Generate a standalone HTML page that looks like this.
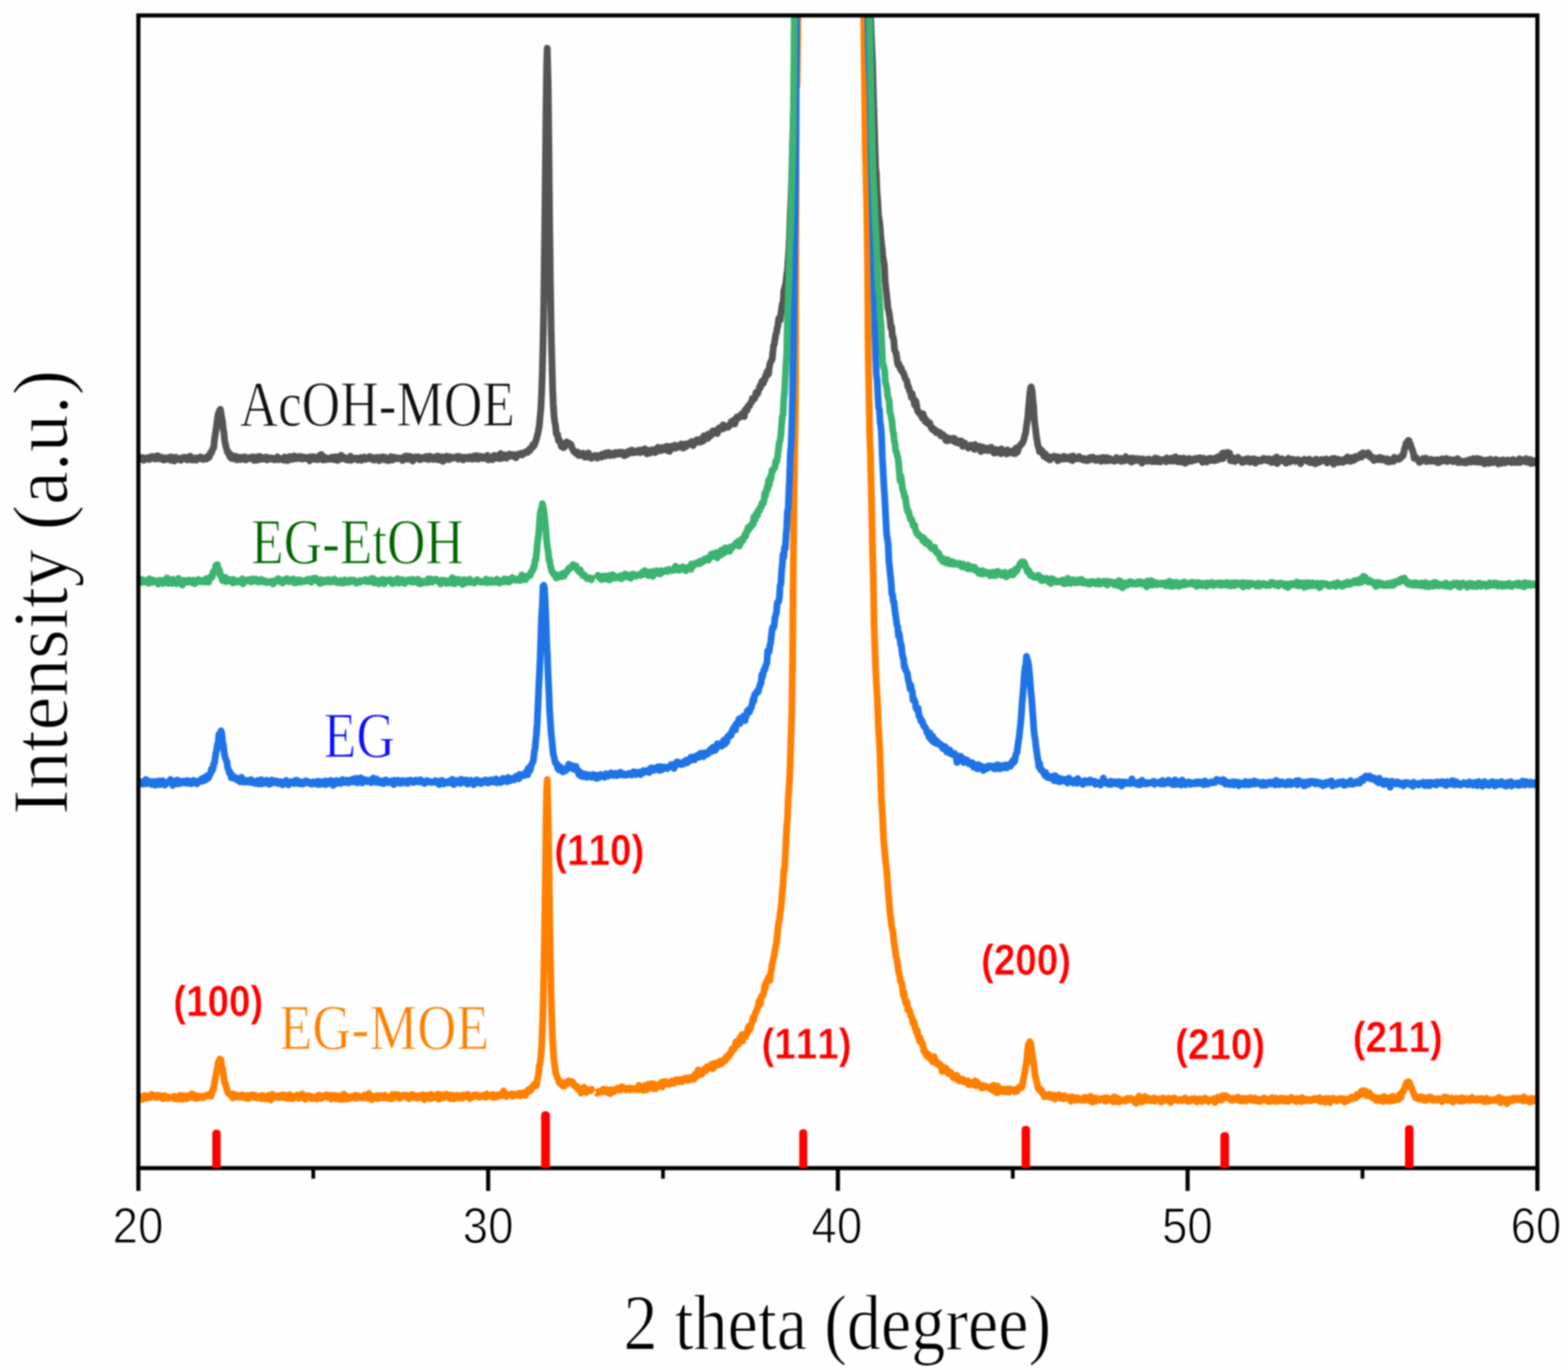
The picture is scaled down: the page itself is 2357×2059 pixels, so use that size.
<!DOCTYPE html>
<html lang="en"><head><meta charset="utf-8"><title>XRD patterns</title>
<style>html,body{margin:0;padding:0;background:#fefefe;}body{width:2357px;height:2059px;overflow:hidden;}svg{display:block;filter:blur(0.9px);}</style>
</head><body>
<svg xmlns="http://www.w3.org/2000/svg" width="2357" height="2059" viewBox="0 0 2357 2059">
<rect x="0" y="0" width="2357" height="2059" fill="#fefefe"/>
<defs><clipPath id="plot"><rect x="208.0" y="23.2" width="2103.0" height="1732.3999999999999"/></clipPath></defs>
<g clip-path="url(#plot)" fill="none" stroke-linejoin="round" stroke-linecap="butt">
<path d="M208.0 689.4L209.1 690.0L210.2 688.9L211.3 687.8L212.4 688.6L213.5 687.6L214.6 689.5L215.7 691.8L216.8 688.5L217.9 688.3L219.0 690.3L220.1 690.1L221.2 689.6L222.3 687.7L223.4 689.4L224.5 690.7L225.6 687.0L226.7 688.6L227.8 686.0L228.9 687.1L230.0 686.1L231.1 689.0L232.2 687.1L233.3 689.9L234.4 689.7L235.5 689.1L236.6 684.9L237.7 688.4L238.8 689.3L239.9 689.6L241.0 686.6L242.1 688.5L243.2 687.6L244.3 687.9L245.4 691.3L246.5 687.9L247.6 689.3L248.7 691.0L249.8 688.3L250.9 689.2L252.0 689.6L253.1 689.5L254.2 687.2L255.3 689.5L256.4 691.8L257.5 686.6L258.6 690.9L259.7 689.6L260.8 688.2L261.9 692.9L263.0 690.7L264.1 687.2L265.2 689.5L266.3 690.4L267.4 689.0L268.5 690.5L269.6 689.2L270.7 690.5L271.8 691.9L272.9 688.1L274.0 689.6L275.1 688.4L276.2 689.5L277.3 687.1L278.4 688.2L279.5 688.9L280.6 690.8L281.7 691.3L282.8 686.8L283.9 687.8L285.0 690.3L286.1 685.6L287.2 688.3L288.3 689.0L289.4 691.4L290.5 690.3L291.6 688.5L292.7 688.4L293.8 688.6L294.9 691.7L296.0 688.2L297.1 688.4L298.2 689.5L299.3 688.6L300.4 688.5L301.5 686.7L302.6 688.7L303.7 687.8L304.8 690.7L305.9 689.7L307.0 688.4L308.1 689.5L309.2 687.5L310.3 689.9L311.4 687.7L312.5 688.4L313.6 684.5L314.7 686.8L315.8 681.9L316.9 679.6L318.0 680.6L319.1 676.3L320.2 674.1L321.3 673.0L322.4 660.2L323.5 653.1L324.6 646.6L325.7 638.8L326.8 629.2L327.9 622.4L329.0 620.0L330.2 616.4L331.2 615.2L332.3 621.7L333.4 628.4L334.5 633.7L335.6 645.2L336.7 651.1L337.8 662.7L338.9 667.7L340.0 673.0L341.1 676.1L342.2 680.4L343.3 679.3L344.4 682.6L345.5 686.6L346.6 682.8L347.7 688.8L348.8 684.4L349.9 689.2L351.0 686.5L352.1 689.6L353.2 688.5L354.3 685.6L355.4 690.7L356.5 691.1L357.6 688.5L358.7 688.1L359.8 688.4L360.9 687.0L362.0 690.7L363.1 687.8L364.2 688.7L365.3 687.4L366.4 687.7L367.5 686.6L368.6 691.2L369.7 688.7L370.8 690.7L371.9 689.0L373.0 687.7L374.1 688.4L375.2 688.0L376.3 689.0L377.4 688.3L378.5 688.5L379.6 686.5L380.7 687.6L381.8 692.0L382.9 687.8L384.0 687.2L385.1 689.7L386.2 691.6L387.3 686.4L388.4 688.7L389.5 687.9L390.6 685.9L391.7 690.4L392.8 689.0L393.9 689.2L395.0 687.7L396.1 689.9L397.2 688.1L398.3 688.8L399.4 687.1L400.5 686.9L401.6 691.5L402.7 688.2L403.8 689.6L404.9 689.0L406.0 688.3L407.1 688.2L408.2 690.2L409.3 688.5L410.4 688.8L411.5 689.1L412.6 691.2L413.7 690.3L414.8 689.8L415.9 688.0L417.0 686.6L418.1 690.8L419.2 690.8L420.3 688.8L421.4 690.0L422.5 690.5L423.6 690.5L424.7 690.7L425.8 688.2L426.9 691.8L428.0 686.8L429.1 690.6L430.2 689.9L431.3 690.6L432.4 692.4L433.5 691.7L434.6 686.9L435.7 686.0L436.8 690.5L437.9 687.2L439.0 689.0L440.1 690.5L441.2 686.0L442.3 685.2L443.4 689.5L444.5 689.1L445.6 688.5L446.7 689.1L447.8 687.4L448.9 686.2L450.0 688.7L451.1 687.2L452.2 686.0L453.3 689.9L454.4 688.9L455.5 689.7L456.6 687.2L457.7 687.8L458.8 687.2L459.9 687.4L461.0 689.3L462.1 687.5L463.2 689.6L464.3 689.6L465.4 692.6L466.5 686.4L467.6 690.5L468.7 688.8L469.8 688.9L470.9 686.3L472.0 688.1L473.1 690.3L474.2 688.8L475.3 689.1L476.4 688.4L477.5 691.0L478.6 688.9L479.7 684.9L480.8 687.7L481.9 685.4L483.0 683.0L484.1 688.0L485.2 691.3L486.3 689.0L487.4 686.8L488.5 687.2L489.6 691.0L490.7 689.2L491.8 689.0L492.9 688.8L494.0 689.0L495.1 690.4L496.2 689.9L497.3 689.3L498.4 687.0L499.5 689.8L500.6 687.7L501.7 690.9L502.8 686.6L503.9 688.7L505.0 688.9L506.1 686.5L507.2 692.0L508.3 691.5L509.4 688.1L510.5 690.3L511.6 689.6L512.7 684.2L513.8 689.4L514.9 688.8L516.0 689.0L517.1 687.0L518.2 688.4L519.3 688.6L520.4 691.0L521.5 689.5L522.6 688.9L523.7 691.7L524.8 687.9L525.9 688.2L527.0 685.6L528.1 691.7L529.2 690.6L530.3 690.5L531.4 690.1L532.5 689.1L533.6 689.3L534.7 688.4L535.8 688.5L536.9 689.0L538.0 691.6L539.1 689.9L540.2 688.8L541.3 687.8L542.4 687.7L543.5 691.8L544.6 689.8L545.7 689.0L546.8 688.3L547.9 686.9L549.0 688.8L550.1 690.5L551.2 688.2L552.3 688.5L553.4 688.5L554.5 689.1L555.6 686.0L556.7 688.5L557.8 687.3L558.9 690.5L560.0 687.5L561.1 689.9L562.2 691.6L563.3 688.3L564.4 687.8L565.5 689.2L566.6 688.9L567.7 687.1L568.8 689.7L569.9 692.5L571.0 688.4L572.1 688.5L573.2 687.0L574.3 689.4L575.4 686.6L576.5 686.9L577.6 691.2L578.7 687.2L579.8 690.8L580.9 691.6L582.0 689.3L583.1 689.9L584.2 692.4L585.3 688.5L586.4 687.8L587.5 686.4L588.6 688.9L589.7 691.5L590.8 690.6L591.9 687.1L593.0 687.3L594.1 687.9L595.2 689.4L596.3 688.5L597.4 689.2L598.5 689.4L599.6 688.3L600.7 688.8L601.8 689.2L602.9 688.7L604.0 689.7L605.1 692.2L606.2 689.9L607.3 688.9L608.4 685.8L609.5 689.5L610.6 685.3L611.7 686.3L612.8 690.4L613.9 690.1L615.0 688.5L616.1 685.7L617.2 688.1L618.3 687.6L619.4 690.0L620.5 692.9L621.6 689.2L622.7 687.4L623.8 686.7L624.9 688.7L626.0 688.5L627.1 686.7L628.2 689.0L629.3 686.7L630.4 690.8L631.5 690.7L632.6 690.7L633.7 687.9L634.8 689.7L635.9 688.5L637.0 688.1L638.1 688.1L639.2 686.4L640.3 686.1L641.4 690.2L642.5 688.4L643.6 689.1L644.7 690.6L645.8 685.6L646.9 687.3L648.0 689.1L649.1 689.4L650.2 688.0L651.3 690.6L652.4 689.1L653.5 686.5L654.6 687.0L655.7 690.2L656.8 689.5L657.9 685.3L659.0 691.1L660.1 689.8L661.2 691.1L662.3 688.0L663.4 688.2L664.5 686.6L665.6 693.3L666.7 688.4L667.8 691.5L668.9 687.5L670.0 689.0L671.1 685.6L672.2 688.0L673.3 690.4L674.4 686.4L675.5 690.6L676.6 689.2L677.7 686.7L678.8 687.7L679.9 687.8L681.0 688.5L682.1 687.6L683.2 687.1L684.3 688.0L685.4 686.7L686.5 686.2L687.6 688.5L688.7 690.2L689.8 685.8L690.9 688.6L692.0 687.4L693.1 686.8L694.2 690.1L695.3 687.6L696.4 691.2L697.5 687.1L698.6 689.2L699.7 688.1L700.8 687.1L701.9 689.5L703.0 688.2L704.1 689.5L705.2 688.3L706.3 686.4L707.4 688.2L708.5 688.5L709.6 690.1L710.7 686.7L711.8 688.2L712.9 685.2L714.0 689.5L715.1 686.3L716.2 684.9L717.3 688.1L718.4 690.2L719.5 685.4L720.6 686.1L721.7 686.7L722.8 686.0L723.9 688.7L725.0 686.5L726.1 686.7L727.2 689.0L728.3 686.5L729.4 688.6L730.5 686.1L731.6 685.6L732.7 684.4L733.8 691.1L734.9 687.1L736.0 688.1L737.1 687.5L738.2 687.8L739.3 687.6L740.4 690.9L741.5 685.5L742.6 684.5L743.7 685.4L744.8 684.8L745.9 688.5L747.0 688.6L748.1 685.3L749.2 684.5L750.3 686.3L751.4 689.4L752.5 681.6L753.6 687.7L754.7 684.7L755.8 688.5L756.9 684.5L758.0 685.9L759.1 683.6L760.2 684.5L761.3 688.7L762.4 687.6L763.5 685.3L764.6 684.3L765.7 682.3L766.8 685.0L767.9 685.5L769.0 685.3L770.1 685.2L771.2 683.1L772.3 685.0L773.4 684.9L774.5 687.2L775.6 688.1L776.7 684.2L777.8 682.8L778.9 683.9L780.0 682.7L781.1 682.2L782.2 683.3L783.3 681.1L784.4 683.9L785.5 682.3L786.6 682.6L787.7 681.5L788.8 680.0L789.9 679.2L791.0 680.0L792.1 678.9L793.2 679.8L794.3 678.6L795.4 675.3L796.5 677.2L797.6 673.5L798.7 673.8L799.8 673.2L800.9 668.2L802.0 670.9L803.1 669.1L804.2 666.2L805.3 663.0L806.4 660.0L807.5 654.8L808.6 651.6L809.7 645.1L810.8 638.9L811.9 625.4L813.0 614.3L814.1 592.9L815.2 561.0L816.3 515.1L817.4 455.9L818.5 365.2L819.6 274.9L820.7 171.1L821.8 93.5L822.6 72.3L824.0 125.7L825.1 224.0L826.2 331.1L827.3 420.5L828.4 491.0L829.5 538.2L830.6 581.1L831.7 607.8L832.8 624.5L833.9 634.6L835.0 639.2L836.1 651.3L837.2 654.0L838.3 653.0L839.4 662.3L840.5 661.0L841.6 663.5L842.7 666.3L843.8 671.2L844.9 668.5L846.0 670.1L847.1 672.9L848.2 672.1L849.3 668.0L850.4 667.0L851.5 664.1L852.6 664.6L853.7 666.5L855.0 665.9L855.9 666.7L857.0 669.6L858.1 667.6L859.2 670.8L860.3 674.2L861.4 675.8L862.5 678.5L863.6 678.8L864.7 678.9L865.8 681.4L866.9 679.8L868.0 679.4L869.1 684.3L870.2 683.6L871.3 684.7L872.4 681.3L873.5 684.0L874.6 683.8L875.7 683.5L876.8 681.1L877.9 684.8L879.0 687.2L880.1 686.3L881.2 684.6L882.3 685.7L883.4 687.1L884.5 680.7L885.6 685.5L886.7 686.7L887.8 687.0L888.9 688.8L890.0 687.7L891.1 686.1L892.2 686.0L893.3 686.8L894.4 684.3L895.5 685.1L896.6 686.8L897.7 688.6L898.8 684.6L899.9 684.7L901.0 685.0L902.1 687.0L903.2 684.3L904.3 687.0L905.4 682.3L906.5 683.6L907.6 683.5L908.7 685.2L909.8 685.5L910.9 680.6L912.0 681.6L913.1 683.8L914.2 681.8L915.3 680.0L916.4 684.7L917.5 683.6L918.6 683.4L919.7 681.5L920.8 684.2L921.9 681.7L923.0 684.1L924.1 680.3L925.2 680.3L926.3 682.2L927.4 680.3L928.5 682.8L929.6 681.9L930.7 679.6L931.8 681.4L932.9 680.5L934.0 682.7L935.1 679.7L936.2 680.0L937.3 683.0L938.4 684.8L939.5 684.3L940.6 680.5L941.7 680.7L942.8 683.1L943.9 679.8L945.0 678.1L946.1 680.0L947.2 680.6L948.3 678.0L949.4 676.3L950.5 676.6L951.6 680.5L952.7 677.7L953.8 678.8L954.9 679.4L956.0 680.0L957.1 678.1L958.2 679.6L959.3 676.8L960.4 677.7L961.5 676.3L962.6 680.4L963.7 678.1L964.8 676.6L965.9 677.2L967.0 677.4L968.1 679.1L969.2 674.5L970.3 675.5L971.4 676.7L972.5 682.2L973.6 679.1L974.7 676.9L975.8 678.4L976.9 681.0L978.0 676.5L979.1 676.1L980.2 679.1L981.3 677.6L982.4 677.9L983.5 675.6L984.6 680.2L985.7 679.7L986.8 677.4L987.9 677.6L989.0 672.2L990.1 677.3L991.2 675.6L992.3 676.8L993.4 677.2L994.5 675.1L995.6 672.4L996.7 676.3L997.8 674.0L998.9 674.7L1000.0 674.1L1001.1 674.5L1002.2 670.5L1003.3 677.3L1004.4 675.3L1005.5 676.9L1006.6 678.4L1007.7 674.4L1008.8 670.7L1009.9 672.3L1011.0 671.5L1012.1 672.7L1013.2 673.6L1014.3 669.2L1015.4 673.6L1016.5 669.7L1017.6 673.0L1018.7 671.8L1019.8 671.1L1020.9 671.3L1022.0 670.0L1023.1 669.6L1024.2 667.1L1025.3 670.1L1026.4 673.5L1027.5 673.4L1028.6 671.8L1029.7 670.2L1030.8 667.1L1031.9 671.0L1033.0 667.7L1034.1 667.3L1035.2 666.5L1036.3 667.0L1037.4 665.6L1038.5 666.0L1039.6 663.6L1040.7 664.7L1041.8 669.8L1042.9 664.6L1044.0 663.9L1045.1 665.1L1046.2 665.1L1047.3 660.9L1048.4 662.4L1049.5 664.4L1050.6 662.6L1051.7 661.9L1052.8 664.5L1053.9 659.4L1055.0 660.5L1056.1 658.8L1057.2 662.6L1058.3 654.8L1059.4 657.0L1060.5 656.7L1061.6 658.7L1062.7 658.1L1063.8 659.2L1064.9 652.2L1066.0 656.7L1067.1 653.8L1068.2 652.4L1069.3 654.4L1070.4 650.7L1071.5 647.5L1072.6 650.6L1073.7 647.5L1074.8 648.7L1075.9 650.3L1077.0 649.5L1078.1 651.7L1079.2 647.1L1080.3 643.4L1081.4 644.5L1082.5 643.4L1083.6 642.1L1084.7 645.2L1085.8 642.1L1086.9 638.5L1088.0 644.0L1089.1 641.6L1090.2 642.2L1091.3 641.1L1092.4 641.8L1093.5 639.9L1094.6 642.1L1095.7 639.8L1096.8 639.1L1097.9 638.6L1099.0 633.7L1100.1 636.1L1101.2 635.2L1102.3 635.5L1103.4 631.1L1104.5 637.3L1105.6 632.9L1106.7 628.8L1107.8 626.7L1108.9 629.1L1110.0 628.6L1111.1 626.0L1112.2 626.9L1113.3 624.0L1114.4 625.8L1115.5 621.5L1116.6 622.1L1117.7 623.4L1118.8 626.1L1119.9 616.1L1121.0 616.2L1122.1 613.9L1123.2 616.7L1124.3 610.5L1125.4 610.7L1126.5 610.4L1127.6 606.5L1128.7 605.1L1129.8 604.7L1130.9 598.9L1132.0 598.8L1133.1 599.8L1134.2 599.3L1135.3 596.4L1136.4 589.9L1137.5 591.1L1138.6 592.1L1139.7 589.2L1140.8 585.2L1141.9 580.8L1143.0 582.8L1144.1 577.2L1145.2 573.4L1146.3 572.2L1147.4 576.4L1148.5 570.7L1149.6 571.2L1150.7 564.3L1151.8 565.9L1152.9 558.9L1154.0 557.4L1155.1 562.3L1156.2 554.1L1157.3 546.8L1158.4 544.4L1159.5 541.7L1160.6 540.1L1161.7 530.0L1162.8 520.0L1163.9 517.1L1165.0 509.8L1166.1 502.7L1167.2 500.8L1168.3 492.5L1169.4 489.6L1170.5 478.7L1171.6 481.0L1172.7 480.8L1173.8 471.3L1174.9 463.7L1176.0 456.6L1177.1 455.1L1178.2 437.6L1179.3 433.3L1180.4 429.1L1181.5 424.2L1182.6 413.0L1183.7 406.2L1184.8 390.1L1185.9 373.4L1187.0 350.3L1188.1 319.6L1189.2 294.3L1190.3 264.3L1191.4 217.4L1192.5 180.6L1193.6 143.9L1194.7 83.4L1195.8 16.0L1196.5 -40.0L1307.0 -40.0L1307.3 -31.7L1308.4 17.6L1309.5 48.8L1310.6 73.7L1311.7 97.2L1312.8 142.3L1313.9 177.4L1315.0 212.6L1316.1 250.1L1317.2 260.4L1318.3 289.9L1319.4 301.4L1320.5 322.5L1321.6 330.0L1322.7 337.9L1323.8 352.7L1324.9 365.1L1326.0 372.6L1327.1 385.0L1328.2 392.0L1329.3 397.4L1330.4 421.0L1331.5 431.9L1332.6 441.0L1333.7 451.0L1334.8 463.9L1335.9 467.1L1337.0 473.6L1338.1 482.1L1339.2 493.2L1340.3 490.7L1341.4 505.5L1342.5 505.9L1343.6 511.5L1344.7 526.2L1345.8 528.3L1346.9 530.1L1348.0 537.7L1349.1 545.5L1350.2 549.1L1351.3 546.7L1352.4 551.6L1353.5 554.7L1354.6 552.9L1355.7 558.1L1356.8 559.2L1357.9 560.2L1359.0 562.9L1360.1 567.2L1361.2 569.7L1362.3 570.6L1363.4 573.7L1364.5 580.7L1365.6 580.8L1366.7 585.4L1367.8 589.0L1368.9 590.0L1370.0 597.3L1371.1 591.6L1372.2 598.8L1373.3 598.6L1374.4 607.1L1375.5 609.5L1376.6 602.9L1377.7 608.4L1378.8 615.5L1379.9 618.7L1381.0 620.2L1382.1 619.8L1383.2 622.6L1384.3 624.6L1385.4 624.3L1386.5 628.5L1387.6 622.0L1388.7 630.4L1389.8 627.8L1390.9 633.9L1392.0 632.4L1393.1 632.2L1394.2 636.4L1395.3 634.6L1396.4 635.8L1397.5 635.4L1398.6 640.2L1399.7 642.4L1400.8 644.7L1401.9 643.0L1403.0 646.6L1404.1 645.2L1405.2 645.9L1406.3 648.3L1407.4 650.3L1408.5 648.0L1409.6 649.0L1410.7 650.0L1411.8 651.4L1412.9 650.0L1414.0 655.0L1415.1 652.6L1416.2 655.2L1417.3 653.1L1418.4 656.4L1419.5 657.1L1420.6 656.0L1421.7 661.9L1422.8 658.9L1423.9 662.5L1425.0 661.2L1426.1 658.3L1427.2 659.4L1428.3 661.6L1429.4 661.3L1430.5 661.8L1431.6 661.5L1432.7 658.7L1433.8 662.5L1434.9 658.8L1436.0 664.6L1437.1 662.7L1438.2 663.2L1439.3 664.6L1440.4 666.0L1441.5 662.8L1442.6 662.6L1443.7 664.3L1444.8 662.7L1445.9 665.2L1447.0 670.9L1448.1 665.7L1449.2 669.6L1450.3 665.7L1451.4 669.4L1452.5 668.5L1453.6 669.3L1454.7 670.9L1455.8 673.6L1456.9 670.6L1458.0 670.7L1459.1 668.8L1460.2 672.2L1461.3 670.7L1462.4 673.1L1463.5 671.6L1464.6 675.4L1465.7 668.1L1466.8 671.7L1467.9 674.3L1469.0 672.0L1470.1 671.3L1471.2 672.6L1472.3 670.5L1473.4 673.7L1474.5 678.6L1475.6 676.2L1476.7 671.8L1477.8 672.5L1478.9 673.6L1480.0 676.6L1481.1 673.2L1482.2 673.6L1483.3 677.0L1484.4 677.1L1485.5 674.9L1486.6 673.6L1487.7 673.0L1488.8 674.9L1489.9 672.0L1491.0 678.1L1492.1 675.6L1493.2 678.0L1494.3 681.0L1495.4 679.8L1496.5 675.4L1497.6 679.6L1498.7 680.3L1499.8 676.8L1500.9 676.6L1502.0 678.4L1503.1 675.7L1504.2 681.9L1505.3 674.5L1506.4 677.2L1507.5 678.9L1508.6 679.2L1509.7 680.1L1510.8 680.4L1511.9 679.6L1513.0 682.3L1514.1 676.0L1515.2 680.2L1516.3 678.8L1517.4 680.4L1518.5 680.5L1519.6 678.1L1520.7 678.4L1521.8 680.9L1522.9 679.6L1524.0 677.1L1525.1 681.8L1526.2 681.7L1527.3 673.4L1528.4 675.9L1529.5 679.3L1530.6 674.8L1531.7 672.6L1532.8 670.5L1533.9 668.7L1535.0 668.1L1536.1 666.0L1537.0 665.8L1538.3 662.5L1539.4 659.6L1540.5 654.0L1541.6 651.3L1542.7 642.3L1543.8 635.1L1544.9 627.3L1546.0 613.5L1547.1 601.4L1548.2 590.1L1549.3 582.6L1550.0 581.4L1551.5 587.7L1552.6 601.9L1553.7 610.7L1554.8 630.3L1555.9 639.5L1557.0 648.3L1558.1 657.4L1559.2 663.7L1560.3 670.5L1561.4 672.4L1562.5 678.9L1563.6 677.1L1564.7 675.7L1565.8 679.9L1566.9 678.3L1568.0 682.9L1569.1 685.6L1570.2 685.4L1571.3 682.1L1572.4 683.6L1573.5 688.8L1574.6 686.4L1575.7 686.1L1576.8 688.3L1577.9 691.2L1579.0 689.2L1580.1 687.2L1581.2 687.8L1582.3 688.5L1583.4 686.3L1584.5 685.6L1585.6 687.8L1586.7 686.1L1587.8 687.8L1588.9 688.2L1590.0 692.5L1591.1 686.7L1592.2 688.1L1593.3 688.1L1594.4 689.3L1595.5 690.5L1596.6 687.7L1597.7 687.2L1598.8 685.7L1599.9 687.1L1601.0 689.9L1602.1 689.0L1603.2 687.1L1604.3 688.4L1605.4 689.1L1606.5 690.1L1607.6 688.1L1608.7 688.8L1609.8 685.9L1610.9 687.2L1612.0 692.3L1613.1 685.4L1614.2 688.8L1615.3 689.9L1616.4 688.8L1617.5 688.0L1618.6 689.4L1619.7 689.6L1620.8 689.5L1621.9 686.2L1623.0 689.4L1624.1 688.1L1625.2 688.7L1626.3 690.2L1627.4 691.0L1628.5 691.5L1629.6 688.9L1630.7 691.6L1631.8 692.0L1632.9 692.0L1634.0 692.5L1635.1 689.7L1636.2 689.6L1637.3 691.5L1638.4 687.5L1639.5 690.4L1640.6 689.1L1641.7 689.4L1642.8 686.9L1643.9 688.5L1645.0 690.1L1646.1 691.8L1647.2 692.0L1648.3 690.0L1649.4 689.8L1650.5 688.7L1651.6 691.0L1652.7 689.8L1653.8 691.4L1654.9 693.5L1656.0 690.2L1657.1 687.5L1658.2 688.7L1659.3 687.6L1660.4 688.1L1661.5 692.7L1662.6 690.8L1663.7 687.6L1664.8 691.6L1665.9 692.7L1667.0 689.8L1668.1 689.2L1669.2 689.8L1670.3 691.0L1671.4 691.6L1672.5 692.6L1673.6 692.7L1674.7 692.7L1675.8 693.0L1676.9 691.7L1678.0 687.7L1679.1 690.3L1680.2 691.1L1681.3 689.9L1682.4 692.3L1683.5 689.9L1684.6 688.9L1685.7 693.3L1686.8 691.9L1687.9 691.0L1689.0 692.4L1690.1 692.6L1691.2 691.3L1692.3 686.2L1693.4 689.5L1694.5 689.9L1695.6 688.9L1696.7 691.1L1697.8 692.9L1698.9 689.9L1700.0 688.7L1701.1 694.5L1702.2 690.0L1703.3 688.5L1704.4 691.2L1705.5 691.6L1706.6 689.5L1707.7 692.3L1708.8 690.0L1709.9 689.2L1711.0 691.2L1712.1 692.3L1713.2 689.7L1714.3 691.5L1715.4 690.7L1716.5 696.1L1717.6 689.6L1718.7 693.5L1719.8 690.8L1720.9 690.7L1722.0 692.3L1723.1 692.6L1724.2 693.3L1725.3 691.6L1726.4 689.9L1727.5 690.0L1728.6 691.9L1729.7 692.1L1730.8 693.6L1731.9 691.8L1733.0 693.0L1734.1 693.8L1735.2 691.4L1736.3 688.3L1737.4 688.9L1738.5 688.5L1739.6 694.0L1740.7 689.5L1741.8 693.3L1742.9 692.2L1744.0 694.2L1745.1 693.0L1746.2 690.9L1747.3 690.8L1748.4 691.3L1749.5 691.5L1750.6 690.2L1751.7 691.1L1752.8 694.1L1753.9 688.1L1755.0 691.7L1756.1 689.5L1757.2 691.5L1758.3 692.7L1759.4 691.1L1760.5 692.6L1761.6 688.3L1762.7 693.2L1763.8 690.1L1764.9 692.4L1766.0 691.6L1767.1 686.5L1768.2 689.9L1769.3 691.7L1770.4 694.1L1771.5 691.8L1772.6 691.8L1773.7 688.7L1774.8 693.9L1775.9 694.6L1777.0 691.4L1778.1 690.9L1779.2 688.4L1780.3 692.9L1781.4 696.3L1782.5 692.6L1783.6 693.6L1784.7 692.3L1785.8 689.5L1786.9 693.8L1788.0 689.1L1789.1 691.0L1790.2 691.9L1791.3 693.0L1792.4 692.1L1793.5 692.1L1794.6 690.0L1795.7 689.0L1796.8 691.5L1797.9 690.1L1799.0 689.0L1800.1 689.1L1801.2 690.5L1802.3 688.0L1803.4 688.9L1804.5 688.4L1805.6 691.7L1806.7 692.1L1807.8 695.0L1808.9 688.6L1810.0 690.1L1811.1 693.0L1812.2 690.9L1813.3 690.7L1814.4 694.4L1815.5 690.7L1816.6 689.2L1817.7 688.9L1818.8 691.9L1819.9 691.8L1821.0 688.7L1822.1 689.4L1823.2 692.1L1824.3 692.1L1825.4 689.8L1826.5 692.1L1827.6 691.9L1828.7 687.4L1829.8 689.9L1830.9 690.9L1832.0 688.7L1833.1 685.3L1834.2 688.0L1835.3 689.1L1836.4 689.6L1837.5 681.2L1838.6 689.0L1839.7 680.6L1840.8 683.5L1841.9 683.3L1842.8 680.7L1844.1 681.4L1845.2 679.8L1846.3 684.5L1847.4 683.2L1848.5 681.1L1849.6 692.4L1850.7 689.4L1851.8 692.3L1852.9 687.9L1854.0 692.7L1855.1 693.3L1856.2 693.5L1857.3 690.8L1858.4 688.8L1859.5 690.8L1860.6 687.2L1861.7 688.2L1862.8 691.5L1863.9 689.6L1865.0 691.1L1866.1 691.3L1867.2 695.0L1868.3 693.9L1869.4 691.5L1870.5 693.8L1871.6 690.2L1872.7 691.0L1873.8 693.3L1874.9 689.4L1876.0 691.2L1877.1 689.3L1878.2 691.9L1879.3 694.7L1880.4 690.4L1881.5 692.2L1882.6 690.1L1883.7 689.7L1884.8 689.5L1885.9 694.4L1887.0 696.1L1888.1 692.7L1889.2 690.5L1890.3 693.1L1891.4 691.2L1892.5 693.3L1893.6 692.4L1894.7 692.4L1895.8 693.0L1896.9 690.8L1898.0 691.1L1899.1 688.8L1900.2 691.1L1901.3 689.3L1902.4 691.6L1903.5 690.2L1904.6 692.1L1905.7 692.7L1906.8 689.4L1907.9 690.5L1909.0 690.2L1910.1 693.3L1911.2 695.1L1912.3 693.5L1913.4 691.3L1914.5 694.6L1915.6 689.2L1916.7 694.7L1917.8 690.8L1918.9 686.9L1920.0 696.8L1921.1 694.9L1922.2 690.1L1923.3 692.3L1924.4 691.6L1925.5 692.2L1926.6 689.3L1927.7 690.8L1928.8 692.9L1929.9 692.5L1931.0 694.2L1932.1 692.2L1933.2 696.3L1934.3 690.8L1935.4 692.5L1936.5 688.6L1937.6 689.8L1938.7 694.5L1939.8 690.4L1940.9 693.1L1942.0 692.0L1943.1 690.2L1944.2 691.5L1945.3 691.2L1946.4 691.2L1947.5 693.5L1948.6 693.3L1949.7 691.1L1950.8 690.5L1951.9 692.7L1953.0 692.0L1954.1 694.0L1955.2 697.0L1956.3 693.7L1957.4 692.1L1958.5 691.9L1959.6 690.6L1960.7 690.5L1961.8 690.4L1962.9 691.5L1964.0 691.4L1965.1 693.5L1966.2 691.5L1967.3 691.8L1968.4 690.0L1969.5 695.2L1970.6 693.1L1971.7 695.5L1972.8 693.7L1973.9 694.9L1975.0 691.8L1976.1 693.5L1977.2 697.1L1978.3 690.0L1979.4 694.4L1980.5 695.3L1981.6 693.0L1982.7 693.6L1983.8 694.6L1984.9 691.0L1986.0 693.0L1987.1 690.6L1988.2 691.0L1989.3 691.1L1990.4 692.0L1991.5 692.5L1992.6 693.1L1993.7 689.6L1994.8 695.9L1995.9 694.4L1997.0 693.6L1998.1 691.6L1999.2 692.1L2000.3 693.3L2001.4 693.0L2002.5 689.1L2003.6 693.6L2004.7 697.7L2005.8 688.8L2006.9 694.1L2008.0 692.9L2009.1 692.0L2010.2 694.8L2011.3 690.0L2012.4 692.5L2013.5 694.9L2014.6 691.8L2015.7 691.4L2016.8 692.3L2017.9 691.3L2019.0 694.9L2020.1 690.3L2021.2 693.5L2022.3 689.5L2023.4 693.0L2024.5 691.4L2025.6 686.6L2026.7 691.3L2027.8 689.1L2028.9 690.0L2030.0 693.5L2031.1 688.2L2032.2 687.9L2033.3 692.3L2034.4 689.4L2035.5 691.6L2036.6 688.8L2037.7 685.9L2038.8 687.0L2039.9 688.9L2041.0 687.8L2042.1 685.4L2043.2 684.9L2044.3 684.0L2045.4 682.6L2046.5 687.1L2047.6 683.0L2048.7 680.5L2049.8 681.6L2051.0 682.5L2052.0 683.8L2053.1 682.4L2054.2 681.6L2055.3 683.3L2056.4 680.4L2057.5 681.6L2058.6 686.3L2059.7 684.3L2060.8 686.6L2061.9 688.8L2063.0 688.2L2064.1 687.6L2065.2 692.1L2066.3 689.8L2067.4 688.4L2068.5 690.9L2069.6 690.6L2070.7 688.6L2071.8 690.7L2072.9 690.5L2074.0 687.3L2075.1 690.9L2076.2 690.9L2077.3 690.7L2078.4 688.6L2079.5 691.1L2080.6 691.7L2081.7 692.0L2082.8 689.8L2083.9 693.1L2085.0 689.6L2086.1 691.5L2087.2 694.3L2088.3 690.6L2089.4 690.9L2090.5 693.8L2091.6 691.0L2092.7 691.2L2093.8 692.1L2094.9 693.5L2096.0 687.3L2097.1 689.8L2098.2 689.3L2099.3 689.0L2100.4 689.2L2101.5 688.9L2102.6 690.6L2103.7 687.8L2104.8 688.9L2105.9 688.3L2107.0 684.7L2108.1 684.4L2109.2 684.9L2110.3 679.4L2111.4 674.1L2112.5 671.5L2113.6 666.1L2114.7 665.3L2115.8 664.4L2116.8 661.8L2118.0 662.4L2119.1 667.7L2120.2 667.6L2121.3 672.8L2122.4 674.0L2123.5 677.8L2124.6 681.3L2125.7 688.8L2126.8 685.7L2127.9 686.9L2129.0 687.9L2130.1 689.4L2131.2 691.5L2132.3 691.1L2133.4 694.8L2134.5 691.7L2135.6 694.1L2136.7 692.1L2137.8 692.8L2138.9 689.2L2140.0 691.7L2141.1 691.9L2142.2 691.7L2143.3 688.3L2144.4 693.8L2145.5 691.6L2146.6 691.5L2147.7 691.9L2148.8 692.0L2149.9 693.2L2151.0 690.2L2152.1 690.8L2153.2 693.1L2154.3 692.9L2155.4 691.9L2156.5 691.6L2157.6 691.2L2158.7 692.6L2159.8 694.8L2160.9 690.8L2162.0 695.5L2163.1 694.3L2164.2 692.0L2165.3 694.2L2166.4 690.2L2167.5 689.7L2168.6 690.5L2169.7 692.1L2170.8 692.3L2171.9 691.9L2173.0 693.1L2174.1 689.0L2175.2 693.8L2176.3 690.3L2177.4 691.7L2178.5 692.2L2179.6 690.8L2180.7 690.5L2181.8 691.1L2182.9 692.9L2184.0 694.0L2185.1 694.0L2186.2 691.2L2187.3 691.6L2188.4 691.3L2189.5 693.8L2190.6 689.3L2191.7 695.2L2192.8 692.1L2193.9 691.6L2195.0 693.6L2196.1 694.9L2197.2 693.7L2198.3 694.9L2199.4 693.3L2200.5 695.3L2201.6 695.3L2202.7 692.9L2203.8 695.7L2204.9 693.4L2206.0 693.2L2207.1 691.4L2208.2 692.6L2209.3 694.5L2210.4 690.7L2211.5 694.3L2212.6 693.7L2213.7 693.6L2214.8 689.1L2215.9 692.9L2217.0 694.3L2218.1 691.8L2219.2 693.3L2220.3 688.9L2221.4 694.4L2222.5 692.0L2223.6 694.7L2224.7 689.8L2225.8 694.4L2226.9 692.7L2228.0 694.6L2229.1 691.5L2230.2 692.1L2231.3 697.2L2232.4 691.7L2233.5 691.9L2234.6 692.7L2235.7 691.3L2236.8 695.3L2237.9 696.3L2239.0 691.9L2240.1 690.1L2241.2 695.3L2242.3 695.2L2243.4 694.7L2244.5 695.3L2245.6 691.7L2246.7 692.9L2247.8 690.7L2248.9 690.7L2250.0 695.0L2251.1 692.0L2252.2 697.3L2253.3 693.4L2254.4 692.1L2255.5 694.7L2256.6 696.5L2257.7 694.1L2258.8 691.1L2259.9 693.9L2261.0 695.7L2262.1 692.4L2263.2 691.9L2264.3 695.1L2265.4 693.5L2266.5 691.3L2267.6 692.6L2268.7 691.9L2269.8 693.8L2270.9 693.5L2272.0 695.4L2273.1 694.6L2274.2 690.5L2275.3 694.0L2276.4 694.9L2277.5 694.1L2278.6 695.2L2279.7 692.3L2280.8 691.6L2281.9 695.0L2283.0 691.4L2284.1 689.4L2285.2 695.2L2286.3 692.0L2287.4 692.8L2288.5 690.8L2289.6 690.9L2290.7 691.3L2291.8 692.7L2292.9 694.0L2294.0 689.2L2295.1 694.7L2296.2 691.2L2297.3 691.4L2298.4 694.6L2299.5 693.2L2300.6 690.6L2301.7 696.7L2302.8 691.8L2303.9 693.8L2305.0 693.7L2306.1 695.9L2307.2 692.5L2308.3 695.2L2309.4 692.0L2310.5 695.4" stroke="#555555" stroke-width="10.2"/>
<path d="M208.0 1647.1L209.1 1647.8L210.2 1651.9L211.3 1649.0L212.4 1648.6L213.5 1652.5L214.6 1649.1L215.7 1647.0L216.8 1649.8L217.9 1646.3L219.0 1650.5L220.1 1650.6L221.2 1647.4L222.3 1647.3L223.4 1648.8L224.5 1648.5L225.6 1646.7L226.7 1649.5L227.8 1644.8L228.9 1647.7L230.0 1647.7L231.1 1647.9L232.2 1649.0L233.3 1646.2L234.4 1649.5L235.5 1648.1L236.6 1647.3L237.7 1646.0L238.8 1646.3L239.9 1649.1L241.0 1646.7L242.1 1648.5L243.2 1650.3L244.3 1650.3L245.4 1651.2L246.5 1647.9L247.6 1646.5L248.7 1650.2L249.8 1649.0L250.9 1650.4L252.0 1648.4L253.1 1650.6L254.2 1649.9L255.3 1649.7L256.4 1649.3L257.5 1649.1L258.6 1648.8L259.7 1648.8L260.8 1650.2L261.9 1647.5L263.0 1651.5L264.1 1648.2L265.2 1650.1L266.3 1648.2L267.4 1647.9L268.5 1652.0L269.6 1647.8L270.7 1646.0L271.8 1647.1L272.9 1647.8L274.0 1652.2L275.1 1648.7L276.2 1650.0L277.3 1646.5L278.4 1648.9L279.5 1649.5L280.6 1651.5L281.7 1647.0L282.8 1649.4L283.9 1648.8L285.0 1646.4L286.1 1648.2L287.2 1647.7L288.3 1644.0L289.4 1649.3L290.5 1649.2L291.6 1647.4L292.7 1645.7L293.8 1650.8L294.9 1648.6L296.0 1649.9L297.1 1650.6L298.2 1647.1L299.3 1649.5L300.4 1647.5L301.5 1647.8L302.6 1647.7L303.7 1647.8L304.8 1649.8L305.9 1647.9L307.0 1647.4L308.1 1647.1L309.2 1648.1L310.3 1645.7L311.4 1646.2L312.5 1646.8L313.6 1645.5L314.7 1645.7L315.8 1644.0L316.9 1647.6L318.0 1644.7L319.1 1640.6L320.2 1636.5L321.3 1636.8L322.4 1628.1L323.5 1621.5L324.6 1615.9L325.7 1609.3L326.8 1605.5L327.9 1596.9L329.0 1598.1L330.3 1591.5L331.2 1593.9L332.3 1593.0L333.4 1604.4L334.5 1605.6L335.6 1612.7L336.7 1621.3L337.8 1628.0L338.9 1628.6L340.0 1634.5L341.1 1636.1L342.2 1641.6L343.3 1643.2L344.4 1644.1L345.5 1644.4L346.6 1645.6L347.7 1645.4L348.8 1648.0L349.9 1650.0L351.0 1643.9L352.1 1647.3L353.2 1646.9L354.3 1648.6L355.4 1646.0L356.5 1647.5L357.6 1646.0L358.7 1649.2L359.8 1648.1L360.9 1647.7L362.0 1648.7L363.1 1647.6L364.2 1645.3L365.3 1649.2L366.4 1648.6L367.5 1647.9L368.6 1649.9L369.7 1650.4L370.8 1646.2L371.9 1646.8L373.0 1651.0L374.1 1650.8L375.2 1646.9L376.3 1646.1L377.4 1647.1L378.5 1647.4L379.6 1645.4L380.7 1648.3L381.8 1646.0L382.9 1646.1L384.0 1650.0L385.1 1647.1L386.2 1648.2L387.3 1649.5L388.4 1649.8L389.5 1647.7L390.6 1648.4L391.7 1646.9L392.8 1651.5L393.9 1649.5L395.0 1646.4L396.1 1648.4L397.2 1649.6L398.3 1649.2L399.4 1651.7L400.5 1650.8L401.6 1647.4L402.7 1648.2L403.8 1646.1L404.9 1648.8L406.0 1648.7L407.1 1653.3L408.2 1648.6L409.3 1644.6L410.4 1647.2L411.5 1648.6L412.6 1646.1L413.7 1646.8L414.8 1647.7L415.9 1649.0L417.0 1648.1L418.1 1646.8L419.2 1649.8L420.3 1647.4L421.4 1647.5L422.5 1645.9L423.6 1647.0L424.7 1649.6L425.8 1645.5L426.9 1648.3L428.0 1649.7L429.1 1647.7L430.2 1648.8L431.3 1646.4L432.4 1650.8L433.5 1650.4L434.6 1648.8L435.7 1645.3L436.8 1646.5L437.9 1650.2L439.0 1651.5L440.1 1649.0L441.2 1650.7L442.3 1647.3L443.4 1648.1L444.5 1648.4L445.6 1649.2L446.7 1645.7L447.8 1650.1L448.9 1650.8L450.0 1646.4L451.1 1646.0L452.2 1649.1L453.3 1647.2L454.4 1644.2L455.5 1649.9L456.6 1648.7L457.7 1647.6L458.8 1652.2L459.9 1648.7L461.0 1647.1L462.1 1648.6L463.2 1646.6L464.3 1647.1L465.4 1649.1L466.5 1647.4L467.6 1647.6L468.7 1651.4L469.8 1650.0L470.9 1649.9L472.0 1649.4L473.1 1649.3L474.2 1651.0L475.3 1648.4L476.4 1651.8L477.5 1646.7L478.6 1648.0L479.7 1645.9L480.8 1647.8L481.9 1649.4L483.0 1651.0L484.1 1647.2L485.2 1648.4L486.3 1647.8L487.4 1647.1L488.5 1646.3L489.6 1648.5L490.7 1645.3L491.8 1648.6L492.9 1648.5L494.0 1647.2L495.1 1646.6L496.2 1645.9L497.3 1651.8L498.4 1646.0L499.5 1651.2L500.6 1649.5L501.7 1647.8L502.8 1646.3L503.9 1650.3L505.0 1651.5L506.1 1646.7L507.2 1647.9L508.3 1650.3L509.4 1649.0L510.5 1652.0L511.6 1647.4L512.7 1649.4L513.8 1646.2L514.9 1652.2L516.0 1647.1L517.1 1644.4L518.2 1648.2L519.3 1648.2L520.4 1651.9L521.5 1647.8L522.6 1648.4L523.7 1649.5L524.8 1651.3L525.9 1648.3L527.0 1650.3L528.1 1649.3L529.2 1647.9L530.3 1648.5L531.4 1648.4L532.5 1646.7L533.6 1650.6L534.7 1645.9L535.8 1650.5L536.9 1650.1L538.0 1648.2L539.1 1647.0L540.2 1648.0L541.3 1649.2L542.4 1649.7L543.5 1648.9L544.6 1650.2L545.7 1647.4L546.8 1648.8L547.9 1645.5L549.0 1649.7L550.1 1648.6L551.2 1647.6L552.3 1650.5L553.4 1649.6L554.5 1643.3L555.6 1648.4L556.7 1645.7L557.8 1650.3L558.9 1652.8L560.0 1647.4L561.1 1648.5L562.2 1647.9L563.3 1649.0L564.4 1649.5L565.5 1650.6L566.6 1646.5L567.7 1651.2L568.8 1646.6L569.9 1648.8L571.0 1650.4L572.1 1649.6L573.2 1646.6L574.3 1647.0L575.4 1647.5L576.5 1648.2L577.6 1650.4L578.7 1646.0L579.8 1649.1L580.9 1649.4L582.0 1649.3L583.1 1649.1L584.2 1651.0L585.3 1649.1L586.4 1649.8L587.5 1649.3L588.6 1651.5L589.7 1644.8L590.8 1650.6L591.9 1647.8L593.0 1647.7L594.1 1646.5L595.2 1644.9L596.3 1647.5L597.4 1647.0L598.5 1649.1L599.6 1645.6L600.7 1650.8L601.8 1648.7L602.9 1647.8L604.0 1646.9L605.1 1646.8L606.2 1646.1L607.3 1647.2L608.4 1648.2L609.5 1647.9L610.6 1645.6L611.7 1647.7L612.8 1646.5L613.9 1648.4L615.0 1651.5L616.1 1649.3L617.2 1647.6L618.3 1645.2L619.4 1645.6L620.5 1645.1L621.6 1649.4L622.7 1646.7L623.8 1648.2L624.9 1647.0L626.0 1648.3L627.1 1650.6L628.2 1646.9L629.3 1647.5L630.4 1646.6L631.5 1649.6L632.6 1646.2L633.7 1646.0L634.8 1645.5L635.9 1645.5L637.0 1648.9L638.1 1652.7L639.2 1646.2L640.3 1649.7L641.4 1648.5L642.5 1646.0L643.6 1647.5L644.7 1647.6L645.8 1646.7L646.9 1651.5L648.0 1644.5L649.1 1648.7L650.2 1648.6L651.3 1646.9L652.4 1648.2L653.5 1649.5L654.6 1648.2L655.7 1648.7L656.8 1649.2L657.9 1644.3L659.0 1650.6L660.1 1652.0L661.2 1649.7L662.3 1649.7L663.4 1645.3L664.5 1647.7L665.6 1646.4L666.7 1646.8L667.8 1649.6L668.9 1646.4L670.0 1647.6L671.1 1644.4L672.2 1647.5L673.3 1648.0L674.4 1646.5L675.5 1646.5L676.6 1651.2L677.7 1645.6L678.8 1645.9L679.9 1646.3L681.0 1649.9L682.1 1651.6L683.2 1648.3L684.3 1646.4L685.4 1647.0L686.5 1649.6L687.6 1646.1L688.7 1650.3L689.8 1650.3L690.9 1647.8L692.0 1648.8L693.1 1649.0L694.2 1650.5L695.3 1645.7L696.4 1649.8L697.5 1646.9L698.6 1646.2L699.7 1647.8L700.8 1647.2L701.9 1645.8L703.0 1644.7L704.1 1645.8L705.2 1650.2L706.3 1651.1L707.4 1648.7L708.5 1649.7L709.6 1646.6L710.7 1647.3L711.8 1648.0L712.9 1645.5L714.0 1645.6L715.1 1647.6L716.2 1646.8L717.3 1645.5L718.4 1648.1L719.5 1646.9L720.6 1649.2L721.7 1647.3L722.8 1646.8L723.9 1647.5L725.0 1647.0L726.1 1646.1L727.2 1646.5L728.3 1648.6L729.4 1648.4L730.5 1649.5L731.6 1644.1L732.7 1646.4L733.8 1646.4L734.9 1647.4L736.0 1646.3L737.1 1646.1L738.2 1648.4L739.3 1647.3L740.4 1644.9L741.5 1649.4L742.6 1648.7L743.7 1645.8L744.8 1648.4L745.9 1645.5L747.0 1648.8L748.1 1646.4L749.2 1645.3L750.3 1646.0L751.4 1645.2L752.5 1646.9L753.6 1646.9L754.7 1646.6L755.8 1645.4L756.9 1639.7L758.0 1646.5L759.1 1642.8L760.2 1646.7L761.3 1648.2L762.4 1646.6L763.5 1645.3L764.6 1645.6L765.7 1645.7L766.8 1644.8L767.9 1644.7L769.0 1643.9L770.1 1647.7L771.2 1645.4L772.3 1647.1L773.4 1644.8L774.5 1645.2L775.6 1644.7L776.7 1645.7L777.8 1646.2L778.9 1645.0L780.0 1643.1L781.1 1642.8L782.2 1647.1L783.3 1643.3L784.4 1643.0L785.5 1646.0L786.6 1645.1L787.7 1643.7L788.8 1641.7L789.9 1646.5L791.0 1642.4L792.1 1642.3L793.2 1640.4L794.3 1637.5L795.4 1637.1L796.5 1639.7L797.6 1638.9L798.7 1636.8L799.8 1633.9L800.9 1632.2L802.0 1633.1L803.1 1629.3L804.2 1632.2L805.3 1630.6L806.4 1631.5L807.5 1624.5L808.6 1617.7L809.7 1612.5L810.8 1600.7L811.9 1598.9L813.0 1588.5L814.1 1575.0L815.2 1550.1L816.3 1515.5L817.4 1466.3L818.5 1404.7L819.6 1331.9L820.7 1242.1L821.8 1184.5L822.6 1171.5L824.0 1222.3L825.1 1294.3L826.2 1371.0L827.3 1433.5L828.4 1492.9L829.5 1532.0L830.6 1561.1L831.7 1579.8L832.8 1594.6L833.9 1601.6L835.0 1611.0L836.1 1614.6L837.2 1617.3L838.3 1620.7L839.4 1622.5L840.5 1627.1L841.6 1626.5L842.7 1629.0L843.8 1628.6L844.9 1627.2L846.0 1632.4L847.1 1628.7L848.2 1632.2L849.3 1631.3L850.4 1626.7L851.5 1627.4L852.6 1627.4L853.7 1625.9L854.8 1624.3L855.9 1627.5L857.0 1625.2L858.0 1625.7L859.2 1625.3L860.3 1627.6L861.4 1626.7L862.5 1629.4L863.6 1632.1L864.7 1632.4L865.8 1632.6L866.9 1632.6L868.0 1636.0L869.1 1637.1L870.2 1636.6L871.3 1636.1L872.4 1639.0L873.5 1643.0L874.6 1637.9L875.7 1639.3L876.8 1639.5L877.9 1634.0L879.0 1639.2L880.1 1637.7L881.2 1641.8L882.3 1638.7L883.4 1637.8L884.5 1638.9L885.6 1639.7L886.7 1638.3L887.8 1639.3L888.9 1636.9L890.0 1639.1L891.1 1641.1M896.6 1642.0L897.7 1643.3L898.8 1642.4L899.9 1640.2L901.0 1641.0L902.1 1641.0L903.2 1641.3L904.3 1641.2L905.4 1639.4L906.5 1636.9L907.6 1639.6L908.7 1637.1L909.8 1641.0L910.9 1640.8L912.0 1637.6L913.1 1641.9L914.2 1642.1L915.3 1640.5L916.4 1643.3L917.5 1643.6L918.6 1637.6L919.7 1641.6L920.8 1640.3L921.9 1640.0L923.0 1640.8L924.1 1637.4L925.2 1637.5L926.3 1636.8L927.4 1636.7L928.5 1637.8L929.6 1635.0L930.7 1635.5L931.8 1638.5L932.9 1637.0L934.0 1637.7L935.1 1633.2L936.2 1635.2L937.3 1635.5L938.4 1636.6L939.5 1635.3L940.6 1638.1L941.7 1636.1L942.8 1636.2L943.9 1636.1L945.0 1637.4L946.1 1635.0L947.2 1638.1L948.3 1636.7L949.4 1636.1L950.5 1635.8L951.6 1636.7L952.7 1637.6L953.8 1637.4L954.9 1636.2L956.0 1637.1L957.1 1635.6L958.2 1637.8L959.3 1635.2L960.4 1631.2L961.5 1637.7L962.6 1635.3L963.7 1632.7L964.8 1634.5L965.9 1633.1L967.0 1638.8L968.1 1635.6L969.2 1631.4L970.3 1635.5L971.4 1633.5L972.5 1637.9L973.6 1631.9L974.7 1629.4L975.8 1633.8L976.9 1632.8L978.0 1632.5L979.1 1628.9L980.2 1633.7L981.3 1636.0L982.4 1628.7L983.5 1634.5L984.6 1630.9L985.7 1636.4L986.8 1632.4L987.9 1630.9L989.0 1633.2L990.1 1631.9L991.2 1629.4L992.3 1631.7L993.4 1629.1L994.5 1626.3L995.6 1633.7L996.7 1628.7L997.8 1627.9L998.9 1629.6L1000.0 1625.5L1001.1 1625.7L1002.2 1627.2L1003.3 1627.0L1004.4 1628.0L1005.5 1629.9L1006.6 1626.4L1007.7 1628.2L1008.8 1628.2L1009.9 1624.5L1011.0 1627.0L1012.1 1624.4L1013.2 1628.2L1014.3 1626.8L1015.4 1625.7L1016.5 1622.6L1017.6 1625.4L1018.7 1623.3L1019.8 1626.1L1020.9 1624.1L1022.0 1622.4L1023.1 1625.7L1024.2 1625.0L1025.3 1622.0L1026.4 1625.3L1027.5 1622.0L1028.6 1621.7L1029.7 1622.3L1030.8 1620.1L1031.9 1620.4L1033.0 1620.6L1034.1 1623.8L1035.2 1623.4L1036.3 1619.3L1037.4 1622.9L1038.5 1619.0L1039.6 1619.5L1040.7 1620.1L1041.8 1618.5L1042.9 1622.5L1044.0 1617.5L1045.1 1613.9L1046.2 1618.8L1047.3 1614.6L1048.4 1614.3L1049.5 1608.0L1050.6 1615.9L1051.7 1614.8L1052.8 1614.1L1053.9 1613.7L1055.0 1614.5L1056.1 1610.0L1057.2 1611.4L1058.3 1606.9L1059.4 1607.1L1060.5 1609.5L1061.6 1607.4L1062.7 1603.0L1063.8 1606.2L1064.9 1604.5L1066.0 1602.6L1067.1 1605.0L1068.2 1602.7L1069.3 1599.6L1070.4 1600.2L1071.5 1606.3L1072.6 1598.5L1073.7 1602.0L1074.8 1602.4L1075.9 1602.0L1077.0 1597.3L1078.1 1598.8L1079.2 1599.3L1080.3 1600.3L1081.4 1596.4L1082.5 1594.6L1083.6 1599.0L1084.7 1598.6L1085.8 1596.2L1086.9 1593.3L1088.0 1594.9L1089.1 1593.4L1090.2 1594.3L1091.3 1588.6L1092.4 1590.8L1093.5 1589.2L1094.6 1585.8L1095.7 1587.7L1096.8 1585.6L1097.9 1582.8L1099.0 1583.0L1100.1 1576.7L1101.2 1578.2L1102.3 1577.7L1103.4 1575.5L1104.5 1575.7L1105.6 1568.1L1106.7 1565.4L1107.8 1568.1L1108.9 1567.0L1110.0 1569.9L1111.1 1564.7L1112.2 1559.6L1113.3 1562.9L1114.4 1557.5L1115.5 1554.8L1116.6 1564.5L1117.7 1557.5L1118.8 1557.4L1119.9 1555.8L1121.0 1557.8L1122.1 1552.3L1123.2 1553.3L1124.3 1545.5L1125.4 1542.6L1126.5 1548.3L1127.6 1546.2L1128.7 1541.3L1129.8 1537.8L1130.9 1534.6L1132.0 1529.0L1133.1 1532.2L1134.2 1526.6L1135.3 1523.3L1136.4 1520.0L1137.5 1519.2L1138.6 1514.9L1139.7 1512.8L1140.8 1504.5L1141.9 1506.9L1143.0 1509.2L1144.1 1498.3L1145.2 1496.7L1146.3 1497.0L1147.4 1494.4L1148.5 1490.6L1149.6 1480.7L1150.7 1484.4L1151.8 1475.9L1152.9 1473.8L1154.0 1474.9L1155.1 1468.9L1156.2 1469.1L1157.3 1473.4L1158.4 1462.1L1159.5 1458.2L1160.6 1448.9L1161.7 1445.5L1162.8 1439.3L1163.9 1435.6L1165.0 1427.5L1166.1 1422.3L1167.2 1416.5L1168.3 1405.7L1169.4 1395.4L1170.5 1386.3L1171.6 1383.6L1172.7 1372.4L1173.8 1365.9L1174.9 1355.2L1176.0 1338.1L1177.1 1329.6L1178.2 1307.2L1179.3 1307.9L1180.4 1287.7L1181.5 1264.8L1182.6 1242.6L1183.7 1230.5L1184.8 1200.9L1185.9 1185.6L1187.0 1170.1L1188.1 1138.2L1189.2 1101.2L1190.3 1067.2L1191.4 985.3L1192.5 850.2L1193.6 742.9L1194.7 666.2L1195.8 603.4L1196.9 135.7L1198.0 127.8L1199.1 59.5L1199.6 -40.0L1298.2 -40.0L1298.5 42.5L1299.6 130.8L1300.7 224.1L1301.8 264.8L1302.9 314.1L1304.0 391.1L1305.1 535.5L1306.2 590.4L1307.3 653.2L1308.4 682.0L1309.5 730.2L1310.6 778.8L1311.7 832.2L1312.8 870.0L1313.9 936.9L1315.0 971.3L1316.1 1000.5L1317.2 1023.5L1318.3 1041.7L1319.4 1063.8L1320.5 1093.8L1321.6 1111.0L1322.7 1132.3L1323.8 1163.6L1324.9 1201.3L1326.0 1217.0L1327.1 1236.6L1328.2 1262.2L1329.3 1273.4L1330.4 1285.6L1331.5 1296.1L1332.6 1305.1L1333.7 1319.5L1334.8 1334.9L1335.9 1348.0L1337.0 1361.8L1338.1 1373.4L1339.2 1382.4L1340.3 1392.1L1341.4 1396.7L1342.5 1401.1L1343.6 1415.1L1344.7 1421.2L1345.8 1429.5L1346.9 1437.6L1348.0 1440.8L1349.1 1447.5L1350.2 1456.8L1351.3 1463.0L1352.4 1465.6L1353.5 1474.2L1354.6 1476.5L1355.7 1478.4L1356.8 1486.1L1357.9 1496.0L1359.0 1492.1L1360.1 1501.6L1361.2 1505.8L1362.3 1509.6L1363.4 1505.9L1364.5 1517.8L1365.6 1515.3L1366.7 1517.4L1367.8 1520.7L1368.9 1526.3L1370.0 1527.9L1371.1 1530.3L1372.2 1537.4L1373.3 1534.7L1374.4 1536.8L1375.5 1544.9L1376.6 1547.5L1377.7 1551.5L1378.8 1548.5L1379.9 1557.3L1381.0 1558.5L1382.1 1564.8L1383.2 1559.7L1384.3 1566.4L1385.4 1568.0L1386.5 1567.5L1387.6 1572.6L1388.7 1580.0L1389.8 1578.8L1390.9 1580.4L1392.0 1585.3L1393.1 1586.7L1394.2 1587.7L1395.3 1584.3L1396.4 1587.1L1397.5 1590.8L1398.6 1587.7L1399.7 1588.4L1400.8 1593.2L1401.9 1595.9L1403.0 1590.4L1404.1 1587.9L1405.2 1591.6L1406.3 1593.6L1407.4 1596.6L1408.5 1599.3L1409.6 1598.4L1410.7 1598.1L1411.8 1600.9L1412.9 1599.3L1414.0 1602.3L1415.1 1601.8L1416.2 1610.3L1417.3 1606.9L1418.4 1604.1L1419.5 1604.7L1420.6 1606.9L1421.7 1605.1L1422.8 1608.1L1423.9 1609.0L1425.0 1613.5L1426.1 1611.4L1427.2 1611.5L1428.3 1611.1L1429.4 1612.3L1430.5 1615.5L1431.6 1616.0L1432.7 1619.6L1433.8 1616.5L1434.9 1620.8L1436.0 1619.6L1437.1 1619.6L1438.2 1615.8L1439.3 1617.9L1440.4 1622.7L1441.5 1624.5L1442.6 1622.4L1443.7 1624.0L1444.8 1621.9L1445.9 1622.4L1447.0 1622.2L1448.1 1626.0L1449.2 1625.0L1450.3 1624.2L1451.4 1624.3L1452.5 1626.5L1453.6 1626.3L1454.7 1624.3L1455.8 1629.9L1456.9 1627.1L1458.0 1626.9L1459.1 1630.3L1460.2 1629.6L1461.3 1627.6L1462.4 1629.2L1463.5 1626.2L1464.6 1627.4L1465.7 1624.3L1466.8 1631.8L1467.9 1625.7L1469.0 1631.3L1470.1 1628.5L1471.2 1628.5L1472.3 1630.4L1473.4 1631.6L1474.5 1632.6L1475.6 1635.3L1476.7 1632.7L1477.8 1634.1L1478.9 1631.4L1480.0 1634.3L1481.1 1633.5L1482.2 1632.5L1483.3 1633.6L1484.4 1633.9L1485.5 1634.7L1486.6 1635.4L1487.7 1633.9L1488.8 1633.7L1489.9 1636.9L1491.0 1632.3L1492.1 1634.7L1493.2 1639.3L1494.3 1631.1L1495.4 1635.3L1496.5 1638.2L1497.6 1633.9L1498.7 1642.4L1499.8 1632.4L1500.9 1640.6L1502.0 1641.0L1503.1 1639.9L1504.2 1637.8L1505.3 1639.1L1506.4 1636.8L1507.5 1640.3L1508.6 1636.7L1509.7 1638.4L1510.8 1641.0L1511.9 1637.0L1513.0 1638.5L1514.1 1639.6L1515.2 1636.7L1516.3 1641.7L1517.4 1640.1L1518.5 1636.5L1519.6 1639.3L1520.7 1637.9L1521.8 1638.0L1522.9 1639.4L1524.0 1637.7L1525.1 1640.8L1526.2 1637.4L1527.3 1640.4L1528.4 1638.0L1529.5 1639.4L1530.6 1636.0L1531.7 1635.3L1532.8 1633.0L1533.9 1635.1L1535.0 1634.0L1536.1 1634.0L1537.2 1629.2L1538.3 1623.0L1539.4 1616.9L1540.5 1612.0L1541.6 1603.8L1542.7 1599.1L1543.8 1589.3L1544.9 1576.4L1546.0 1569.5L1547.1 1570.1L1548.0 1565.4L1549.3 1567.7L1550.4 1577.4L1551.5 1581.5L1552.6 1590.8L1553.7 1599.2L1554.8 1604.0L1555.9 1617.5L1557.0 1619.1L1558.1 1625.5L1559.2 1629.2L1560.3 1635.4L1561.4 1636.3L1562.5 1638.4L1563.6 1636.6L1564.7 1640.8L1565.8 1639.1L1566.9 1643.3L1568.0 1644.1L1569.1 1644.0L1570.2 1648.4L1571.3 1645.9L1572.4 1646.5L1573.5 1646.0L1574.6 1645.7L1575.7 1648.2L1576.8 1648.7L1577.9 1644.5L1579.0 1649.2L1580.1 1648.4L1581.2 1649.5L1582.3 1648.8L1583.4 1645.8L1584.5 1646.2L1585.6 1651.9L1586.7 1649.2L1587.8 1646.3L1588.9 1649.7L1590.0 1648.6L1591.1 1646.0L1592.2 1645.4L1593.3 1646.8L1594.4 1650.4L1595.5 1650.0L1596.6 1649.7L1597.7 1650.8L1598.8 1651.5L1599.9 1646.7L1601.0 1650.1L1602.1 1649.3L1603.2 1648.7L1604.3 1650.0L1605.4 1650.9L1606.5 1650.7L1607.6 1648.7L1608.7 1650.5L1609.8 1655.1L1610.9 1649.6L1612.0 1648.5L1613.1 1652.2L1614.2 1652.8L1615.3 1652.6L1616.4 1649.8L1617.5 1653.7L1618.6 1650.4L1619.7 1649.8L1620.8 1650.8L1621.9 1651.7L1623.0 1653.2L1624.1 1653.1L1625.2 1651.9L1626.3 1653.7L1627.4 1652.1L1628.5 1653.6L1629.6 1649.5L1630.7 1649.2L1631.8 1653.4L1632.9 1649.5L1634.0 1651.5L1635.1 1651.9L1636.2 1651.2L1637.3 1651.3L1638.4 1654.6L1639.5 1647.5L1640.6 1653.7L1641.7 1656.3L1642.8 1652.2L1643.9 1652.1L1645.0 1653.5L1646.1 1655.5L1647.2 1650.0L1648.3 1652.3L1649.4 1651.8L1650.5 1653.2L1651.6 1652.5L1652.7 1653.4L1653.8 1651.4L1654.9 1652.3L1656.0 1651.0L1657.1 1651.0L1658.2 1652.0L1659.3 1652.0L1660.4 1650.1L1661.5 1655.1L1662.6 1652.0L1663.7 1649.7L1664.8 1654.2L1665.9 1650.9L1667.0 1653.2L1668.1 1652.2L1669.2 1652.7L1670.3 1652.6L1671.4 1651.2L1672.5 1652.4L1673.6 1656.0L1674.7 1648.3L1675.8 1652.4L1676.9 1653.1L1678.0 1650.4L1679.1 1649.8L1680.2 1656.2L1681.3 1651.7L1682.4 1656.1L1683.5 1653.3L1684.6 1652.5L1685.7 1653.2L1686.8 1653.5L1687.9 1654.5L1689.0 1653.1L1690.1 1652.6L1691.2 1652.7L1692.3 1654.8L1693.4 1653.8L1694.5 1650.6L1695.6 1651.2L1696.7 1653.0L1697.8 1651.3L1698.9 1651.7L1700.0 1650.7L1701.1 1651.9L1702.2 1653.2L1703.3 1654.2L1704.4 1652.4L1705.5 1656.2L1706.6 1652.3L1707.7 1658.2L1708.8 1654.2L1709.9 1653.3L1711.0 1651.5L1712.1 1647.3L1713.2 1652.2L1714.3 1652.8L1715.4 1655.9L1716.5 1650.0L1717.6 1655.9L1718.7 1652.0L1719.8 1653.8L1720.9 1647.9L1722.0 1652.7L1723.1 1651.8L1724.2 1653.7L1725.3 1652.6L1726.4 1650.4L1727.5 1654.2L1728.6 1653.7L1729.7 1653.6L1730.8 1654.3L1731.9 1654.5L1733.0 1652.4L1734.1 1650.0L1735.2 1650.0L1736.3 1654.9L1737.4 1653.8L1738.5 1652.7L1739.6 1651.7L1740.7 1652.6L1741.8 1652.6L1742.9 1651.9L1744.0 1651.3L1745.1 1656.4L1746.2 1652.9L1747.3 1651.4L1748.4 1650.2L1749.5 1651.2L1750.6 1653.8L1751.7 1653.9L1752.8 1652.1L1753.9 1652.6L1755.0 1652.0L1756.1 1650.5L1757.2 1654.9L1758.3 1653.2L1759.4 1657.0L1760.5 1651.2L1761.6 1652.3L1762.7 1654.1L1763.8 1652.1L1764.9 1650.1L1766.0 1650.8L1767.1 1652.7L1768.2 1653.2L1769.3 1652.4L1770.4 1654.4L1771.5 1654.4L1772.6 1653.2L1773.7 1652.6L1774.8 1652.1L1775.9 1653.6L1777.0 1654.2L1778.1 1652.7L1779.2 1653.4L1780.3 1652.0L1781.4 1650.0L1782.5 1650.8L1783.6 1654.0L1784.7 1653.4L1785.8 1655.5L1786.9 1652.7L1788.0 1654.2L1789.1 1655.0L1790.2 1654.4L1791.3 1651.5L1792.4 1652.3L1793.5 1652.8L1794.6 1650.8L1795.7 1653.5L1796.8 1654.4L1797.9 1651.7L1799.0 1656.2L1800.1 1652.1L1801.2 1652.2L1802.3 1652.2L1803.4 1651.3L1804.5 1653.3L1805.6 1652.6L1806.7 1655.6L1807.8 1653.7L1808.9 1653.6L1810.0 1652.2L1811.1 1650.0L1812.2 1652.4L1813.3 1651.0L1814.4 1654.3L1815.5 1652.5L1816.6 1655.6L1817.7 1653.9L1818.8 1654.0L1819.9 1652.9L1821.0 1652.9L1822.1 1653.6L1823.2 1654.1L1824.3 1651.1L1825.4 1653.2L1826.5 1657.0L1827.6 1652.0L1828.7 1651.5L1829.8 1650.5L1830.9 1648.8L1832.0 1653.2L1833.1 1650.8L1834.2 1650.7L1835.3 1652.9L1836.4 1653.5L1837.5 1646.6L1838.6 1649.6L1839.7 1648.3L1840.8 1647.6L1842.0 1646.7L1843.0 1646.8L1844.1 1650.1L1845.2 1648.7L1846.3 1648.8L1847.4 1651.1L1848.5 1651.1L1849.6 1650.9L1850.7 1651.2L1851.8 1654.2L1852.9 1652.3L1854.0 1651.6L1855.1 1650.4L1856.2 1651.5L1857.3 1650.4L1858.4 1652.6L1859.5 1652.9L1860.6 1648.8L1861.7 1652.6L1862.8 1653.7L1863.9 1652.9L1865.0 1650.9L1866.1 1654.9L1867.2 1651.4L1868.3 1650.4L1869.4 1650.7L1870.5 1652.6L1871.6 1654.4L1872.7 1654.8L1873.8 1653.1L1874.9 1650.5L1876.0 1651.5L1877.1 1651.1L1878.2 1652.4L1879.3 1649.5L1880.4 1652.9L1881.5 1653.9L1882.6 1652.4L1883.7 1653.5L1884.8 1651.0L1885.9 1650.1L1887.0 1651.6L1888.1 1654.8L1889.2 1654.6L1890.3 1651.9L1891.4 1654.9L1892.5 1652.2L1893.6 1655.5L1894.7 1653.6L1895.8 1651.9L1896.9 1654.2L1898.0 1651.4L1899.1 1651.1L1900.2 1650.1L1901.3 1653.2L1902.4 1652.7L1903.5 1652.6L1904.6 1652.0L1905.7 1655.4L1906.8 1652.0L1907.9 1651.5L1909.0 1655.0L1910.1 1655.3L1911.2 1653.4L1912.3 1649.6L1913.4 1651.7L1914.5 1653.9L1915.6 1652.8L1916.7 1655.6L1917.8 1650.3L1918.9 1654.0L1920.0 1651.7L1921.1 1655.2L1922.2 1652.6L1923.3 1654.6L1924.4 1651.6L1925.5 1650.2L1926.6 1650.8L1927.7 1651.7L1928.8 1650.9L1929.9 1655.0L1931.0 1655.2L1932.1 1653.3L1933.2 1650.9L1934.3 1652.6L1935.4 1651.6L1936.5 1655.4L1937.6 1653.4L1938.7 1653.7L1939.8 1652.1L1940.9 1649.2L1942.0 1651.4L1943.1 1650.8L1944.2 1653.5L1945.3 1653.0L1946.4 1651.4L1947.5 1652.1L1948.6 1655.6L1949.7 1651.1L1950.8 1651.1L1951.9 1652.4L1953.0 1651.5L1954.1 1652.0L1955.2 1653.8L1956.3 1655.9L1957.4 1649.6L1958.5 1652.8L1959.6 1652.9L1960.7 1652.7L1961.8 1652.5L1962.9 1652.2L1964.0 1654.6L1965.1 1652.0L1966.2 1652.6L1967.3 1652.8L1968.4 1653.0L1969.5 1652.5L1970.6 1654.6L1971.7 1652.8L1972.8 1653.1L1973.9 1652.7L1975.0 1651.0L1976.1 1651.3L1977.2 1650.9L1978.3 1653.1L1979.4 1651.5L1980.5 1650.9L1981.6 1653.2L1982.7 1653.7L1983.8 1649.6L1984.9 1655.8L1986.0 1652.8L1987.1 1652.6L1988.2 1654.7L1989.3 1652.9L1990.4 1651.7L1991.5 1656.7L1992.6 1650.8L1993.7 1652.6L1994.8 1654.3L1995.9 1650.8L1997.0 1652.6L1998.1 1653.4L1999.2 1657.1L2000.3 1651.1L2001.4 1652.6L2002.5 1653.9L2003.6 1652.9L2004.7 1650.5L2005.8 1653.4L2006.9 1652.9L2008.0 1653.5L2009.1 1654.7L2010.2 1654.5L2011.3 1653.4L2012.4 1653.2L2013.5 1650.7L2014.6 1652.4L2015.7 1653.0L2016.8 1651.9L2017.9 1652.7L2019.0 1651.0L2020.1 1655.2L2021.2 1656.3L2022.3 1651.6L2023.4 1653.0L2024.5 1651.7L2025.6 1654.3L2026.7 1652.6L2027.8 1651.8L2028.9 1651.0L2030.0 1651.4L2031.1 1649.0L2032.2 1651.7L2033.3 1648.7L2034.4 1650.6L2035.5 1649.3L2036.6 1650.6L2037.7 1648.0L2038.8 1649.3L2039.9 1645.0L2041.0 1647.3L2042.1 1645.1L2043.2 1645.3L2044.3 1644.5L2045.4 1645.6L2046.5 1639.6L2047.6 1643.7L2048.7 1640.0L2050.0 1642.8L2050.9 1639.1L2052.0 1641.1L2053.1 1640.1L2054.2 1646.8L2055.3 1641.7L2056.4 1644.8L2057.5 1644.2L2058.6 1642.4L2059.7 1645.8L2060.8 1648.3L2061.9 1647.3L2063.0 1650.0L2064.1 1648.1L2065.2 1649.3L2066.3 1649.1L2067.4 1650.8L2068.5 1654.0L2069.6 1651.5L2070.7 1651.5L2071.8 1650.2L2072.9 1650.2L2074.0 1654.4L2075.1 1649.8L2076.2 1650.3L2077.3 1651.8L2078.4 1651.3L2079.5 1655.6L2080.6 1647.8L2081.7 1652.8L2082.8 1653.4L2083.9 1650.1L2085.0 1650.9L2086.1 1652.9L2087.2 1655.0L2088.3 1650.3L2089.4 1649.1L2090.5 1653.7L2091.6 1654.6L2092.7 1651.1L2093.8 1647.6L2094.9 1654.2L2096.0 1651.1L2097.1 1653.3L2098.2 1651.0L2099.3 1650.1L2100.4 1649.6L2101.5 1652.7L2102.6 1652.1L2103.7 1644.7L2104.8 1645.9L2105.9 1649.7L2107.0 1644.2L2108.1 1640.3L2109.2 1640.7L2110.3 1638.0L2111.4 1635.3L2112.5 1631.7L2113.6 1629.4L2114.7 1626.9L2115.8 1627.1L2116.8 1625.9L2118.0 1626.0L2119.1 1627.9L2120.2 1633.2L2121.3 1634.0L2122.4 1635.8L2123.5 1639.8L2124.6 1642.0L2125.7 1645.4L2126.8 1646.2L2127.9 1650.1L2129.0 1650.4L2130.1 1648.8L2131.2 1648.9L2132.3 1651.8L2133.4 1651.6L2134.5 1650.8L2135.6 1648.5L2136.7 1648.1L2137.8 1652.2L2138.9 1653.1L2140.0 1653.3L2141.1 1649.6L2142.2 1653.9L2143.3 1651.1L2144.4 1652.8L2145.5 1652.9L2146.6 1650.8L2147.7 1651.2L2148.8 1648.6L2149.9 1650.7L2151.0 1649.1L2152.1 1653.2L2153.2 1652.6L2154.3 1654.1L2155.4 1653.2L2156.5 1651.4L2157.6 1653.2L2158.7 1651.9L2159.8 1653.7L2160.9 1653.2L2162.0 1650.9L2163.1 1652.7L2164.2 1652.8L2165.3 1652.1L2166.4 1654.3L2167.5 1655.8L2168.6 1652.1L2169.7 1652.1L2170.8 1648.7L2171.9 1652.5L2173.0 1652.0L2174.1 1648.9L2175.2 1653.3L2176.3 1653.8L2177.4 1651.5L2178.5 1652.1L2179.6 1651.1L2180.7 1654.2L2181.8 1650.1L2182.9 1652.3L2184.0 1656.3L2185.1 1652.9L2186.2 1653.7L2187.3 1652.6L2188.4 1650.7L2189.5 1652.8L2190.6 1653.6L2191.7 1651.0L2192.8 1653.5L2193.9 1655.1L2195.0 1654.8L2196.1 1650.0L2197.2 1651.1L2198.3 1650.0L2199.4 1654.8L2200.5 1654.0L2201.6 1654.1L2202.7 1651.3L2203.8 1650.8L2204.9 1653.0L2206.0 1653.1L2207.1 1651.4L2208.2 1653.2L2209.3 1654.1L2210.4 1653.3L2211.5 1651.0L2212.6 1649.1L2213.7 1652.4L2214.8 1653.2L2215.9 1652.4L2217.0 1652.1L2218.1 1651.7L2219.2 1654.2L2220.3 1652.8L2221.4 1653.1L2222.5 1651.2L2223.6 1651.8L2224.7 1653.2L2225.8 1651.1L2226.9 1650.7L2228.0 1652.3L2229.1 1655.1L2230.2 1653.3L2231.3 1655.6L2232.4 1652.7L2233.5 1652.4L2234.6 1650.4L2235.7 1651.9L2236.8 1655.5L2237.9 1653.5L2239.0 1654.3L2240.1 1654.2L2241.2 1652.9L2242.3 1652.6L2243.4 1653.2L2244.5 1654.2L2245.6 1653.8L2246.7 1653.8L2247.8 1653.2L2248.9 1651.6L2250.0 1652.5L2251.1 1651.3L2252.2 1654.8L2253.3 1649.2L2254.4 1652.6L2255.5 1657.2L2256.6 1652.3L2257.7 1650.9L2258.8 1652.9L2259.9 1655.3L2261.0 1652.7L2262.1 1654.1L2263.2 1653.1L2264.3 1652.3L2265.4 1658.6L2266.5 1653.1L2267.6 1652.0L2268.7 1652.1L2269.8 1653.6L2270.9 1653.7L2272.0 1654.3L2273.1 1653.2L2274.2 1650.4L2275.3 1653.9L2276.4 1652.4L2277.5 1652.4L2278.6 1650.3L2279.7 1651.9L2280.8 1651.7L2281.9 1652.9L2283.0 1650.3L2284.1 1653.1L2285.2 1653.2L2286.3 1650.9L2287.4 1651.8L2288.5 1651.4L2289.6 1654.6L2290.7 1648.4L2291.8 1652.3L2292.9 1650.0L2294.0 1652.2L2295.1 1654.5L2296.2 1651.8L2297.3 1653.2L2298.4 1651.4L2299.5 1656.5L2300.6 1654.6L2301.7 1655.0L2302.8 1650.6L2303.9 1651.0L2305.0 1654.9L2306.1 1652.6L2307.2 1652.5L2308.3 1653.6L2309.4 1650.7L2310.5 1654.4" stroke="#ff8000" stroke-width="10.2"/>
<path d="M208.0 1176.6L209.1 1177.4L210.2 1175.3L211.3 1177.5L212.4 1175.2L213.5 1178.2L214.6 1178.5L215.7 1178.1L216.8 1177.4L217.9 1177.6L219.0 1171.6L220.1 1178.0L221.2 1175.9L222.3 1176.6L223.4 1175.9L224.5 1173.9L225.6 1175.4L226.7 1177.6L227.8 1178.9L228.9 1175.2L230.0 1174.7L231.1 1179.0L232.2 1174.7L233.3 1180.1L234.4 1176.4L235.5 1174.7L236.6 1178.1L237.7 1179.3L238.8 1173.7L239.9 1179.1L241.0 1175.7L242.1 1178.9L243.2 1175.5L244.3 1173.3L245.4 1177.1L246.5 1177.8L247.6 1179.9L248.7 1179.2L249.8 1177.4L250.9 1175.7L252.0 1175.1L253.1 1175.5L254.2 1174.5L255.3 1175.5L256.4 1171.4L257.5 1176.3L258.6 1175.9L259.7 1180.6L260.8 1177.3L261.9 1175.0L263.0 1176.9L264.1 1173.6L265.2 1174.7L266.3 1172.4L267.4 1178.3L268.5 1176.8L269.6 1173.5L270.7 1175.5L271.8 1177.3L272.9 1176.4L274.0 1176.2L275.1 1173.9L276.2 1174.3L277.3 1175.5L278.4 1177.0L279.5 1173.8L280.6 1173.2L281.7 1177.2L282.8 1173.4L283.9 1177.0L285.0 1175.4L286.1 1176.5L287.2 1178.0L288.3 1176.0L289.4 1176.0L290.5 1172.8L291.6 1173.1L292.7 1175.5L293.8 1177.0L294.9 1176.6L296.0 1178.1L297.1 1174.3L298.2 1173.9L299.3 1175.2L300.4 1173.1L301.5 1172.7L302.6 1170.7L303.7 1174.1L304.8 1170.0L305.9 1172.5L307.0 1168.5L308.1 1172.8L309.2 1168.2L310.3 1171.1L311.4 1165.8L312.5 1167.1L313.6 1169.2L314.7 1164.1L315.8 1164.3L316.9 1161.4L318.0 1155.5L319.1 1158.0L320.2 1155.0L321.3 1147.9L322.4 1146.7L323.5 1138.4L324.6 1131.8L325.7 1127.3L326.8 1118.6L327.9 1118.9L329.0 1103.5L330.1 1105.1L331.2 1101.8L332.3 1098.3L333.4 1103.1L334.5 1114.7L335.6 1119.1L336.7 1128.1L337.8 1136.5L338.9 1139.3L340.0 1143.2L341.1 1144.5L342.2 1154.5L343.3 1155.5L344.4 1160.7L345.5 1162.7L346.6 1161.4L347.7 1168.9L348.8 1168.9L349.9 1169.5L351.0 1166.5L352.1 1168.7L353.2 1169.1L354.3 1169.8L355.4 1169.0L356.5 1172.3L357.6 1172.3L358.7 1172.9L359.8 1171.5L360.9 1175.1L362.0 1173.3L363.1 1168.2L364.2 1172.2L365.3 1173.5L366.4 1175.5L367.5 1173.3L368.6 1173.5L369.7 1172.9L370.8 1175.5L371.9 1173.5L373.0 1173.3L374.1 1173.2L375.2 1175.6L376.3 1173.7L377.4 1171.7L378.5 1176.0L379.6 1173.6L380.7 1175.6L381.8 1175.7L382.9 1177.3L384.0 1177.0L385.1 1174.1L386.2 1174.9L387.3 1172.9L388.4 1178.3L389.5 1176.1L390.6 1177.9L391.7 1174.8L392.8 1171.7L393.9 1178.2L395.0 1175.6L396.1 1175.7L397.2 1175.6L398.3 1176.7L399.4 1176.5L400.5 1172.7L401.6 1177.6L402.7 1174.7L403.8 1174.8L404.9 1178.8L406.0 1177.3L407.1 1175.1L408.2 1172.3L409.3 1176.0L410.4 1176.7L411.5 1175.6L412.6 1173.5L413.7 1174.3L414.8 1173.5L415.9 1176.2L417.0 1177.3L418.1 1177.6L419.2 1174.5L420.3 1176.2L421.4 1176.8L422.5 1174.9L423.6 1175.6L424.7 1179.7L425.8 1176.2L426.9 1177.4L428.0 1175.1L429.1 1175.9L430.2 1172.8L431.3 1175.8L432.4 1178.0L433.5 1179.7L434.6 1178.0L435.7 1177.1L436.8 1176.0L437.9 1174.8L439.0 1175.6L440.1 1177.0L441.2 1174.5L442.3 1177.6L443.4 1174.1L444.5 1172.7L445.6 1174.1L446.7 1172.9L447.8 1173.4L448.9 1178.0L450.0 1175.5L451.1 1176.3L452.2 1178.0L453.3 1178.2L454.4 1175.0L455.5 1178.3L456.6 1176.6L457.7 1175.9L458.8 1176.7L459.9 1173.3L461.0 1174.5L462.1 1175.7L463.2 1177.0L464.3 1175.2L465.4 1175.7L466.5 1177.7L467.6 1178.5L468.7 1177.3L469.8 1178.2L470.9 1175.2L472.0 1175.3L473.1 1176.5L474.2 1175.3L475.3 1175.0L476.4 1178.9L477.5 1175.5L478.6 1174.1L479.7 1176.8L480.8 1179.2L481.9 1176.0L483.0 1178.1L484.1 1175.1L485.2 1175.0L486.3 1174.6L487.4 1175.6L488.5 1179.2L489.6 1173.7L490.7 1178.8L491.8 1174.0L492.9 1175.4L494.0 1177.3L495.1 1177.0L496.2 1176.3L497.3 1172.8L498.4 1176.5L499.5 1173.9L500.6 1180.4L501.7 1175.4L502.8 1176.1L503.9 1173.6L505.0 1174.8L506.1 1173.2L507.2 1177.3L508.3 1175.0L509.4 1176.4L510.5 1174.0L511.6 1174.2L512.7 1177.4L513.8 1173.2L514.9 1171.5L516.0 1175.5L517.1 1172.5L518.2 1173.7L519.3 1176.0L520.4 1172.7L521.5 1175.7L522.6 1172.7L523.7 1176.6L524.8 1176.2L525.9 1172.8L527.0 1173.1L528.1 1171.9L529.2 1173.7L530.3 1175.4L531.4 1170.5L532.5 1174.8L533.6 1170.6L534.7 1171.4L535.8 1169.6L536.9 1176.7L538.0 1172.9L539.1 1173.3L540.2 1171.6L541.3 1174.8L542.4 1168.9L543.5 1172.9L544.6 1176.9L545.7 1172.2L546.8 1173.0L547.9 1174.2L549.0 1171.6L550.1 1173.1L551.2 1174.9L552.3 1173.6L553.4 1174.0L554.5 1172.7L555.6 1174.0L556.7 1173.6L557.8 1176.3L558.9 1175.0L560.0 1173.3L561.1 1169.3L562.2 1175.2L563.3 1175.4L564.4 1172.4L565.5 1170.5L566.6 1172.1L567.7 1176.0L568.8 1172.4L569.9 1173.6L571.0 1174.9L572.1 1176.8L573.2 1174.6L574.3 1174.5L575.4 1173.7L576.5 1177.7L577.6 1176.7L578.7 1174.6L579.8 1172.2L580.9 1173.4L582.0 1175.9L583.1 1173.5L584.2 1176.4L585.3 1175.5L586.4 1175.4L587.5 1176.0L588.6 1175.8L589.7 1173.3L590.8 1174.3L591.9 1179.1L593.0 1172.7L594.1 1174.0L595.2 1176.8L596.3 1174.6L597.4 1173.4L598.5 1172.5L599.6 1175.9L600.7 1176.8L601.8 1177.5L602.9 1175.0L604.0 1176.8L605.1 1173.1L606.2 1175.3L607.3 1173.7L608.4 1175.3L609.5 1176.3L610.6 1176.9L611.7 1173.2L612.8 1177.3L613.9 1174.1L615.0 1173.1L616.1 1174.7L617.2 1172.3L618.3 1175.0L619.4 1175.5L620.5 1174.7L621.6 1176.0L622.7 1174.5L623.8 1175.0L624.9 1172.4L626.0 1175.1L627.1 1173.5L628.2 1174.2L629.3 1174.9L630.4 1175.4L631.5 1172.1L632.6 1172.2L633.7 1174.5L634.8 1175.9L635.9 1175.7L637.0 1176.7L638.1 1177.4L639.2 1176.0L640.3 1175.0L641.4 1173.2L642.5 1173.3L643.6 1174.2L644.7 1175.6L645.8 1175.5L646.9 1175.1L648.0 1174.8L649.1 1176.2L650.2 1175.4L651.3 1175.6L652.4 1175.6L653.5 1174.1L654.6 1173.2L655.7 1176.0L656.8 1175.8L657.9 1174.7L659.0 1174.3L660.1 1179.2L661.2 1173.7L662.3 1174.7L663.4 1175.5L664.5 1172.9L665.6 1175.3L666.7 1178.3L667.8 1176.7L668.9 1176.2L670.0 1176.1L671.1 1175.2L672.2 1176.8L673.3 1174.7L674.4 1174.2L675.5 1175.2L676.6 1176.7L677.7 1175.6L678.8 1176.2L679.9 1171.3L681.0 1177.2L682.1 1179.2L683.2 1177.4L684.3 1174.4L685.4 1173.4L686.5 1175.5L687.6 1173.1L688.7 1176.3L689.8 1174.0L690.9 1176.7L692.0 1177.4L693.1 1171.2L694.2 1175.4L695.3 1173.6L696.4 1172.3L697.5 1173.7L698.6 1174.4L699.7 1176.7L700.8 1172.1L701.9 1176.7L703.0 1178.5L704.1 1175.9L705.2 1175.8L706.3 1174.7L707.4 1172.6L708.5 1175.7L709.6 1175.4L710.7 1176.0L711.8 1179.3L712.9 1176.0L714.0 1175.4L715.1 1177.4L716.2 1172.1L717.3 1172.4L718.4 1173.8L719.5 1173.3L720.6 1175.7L721.7 1173.8L722.8 1177.6L723.9 1177.1L725.0 1175.7L726.1 1173.6L727.2 1175.4L728.3 1175.7L729.4 1172.2L730.5 1174.7L731.6 1175.4L732.7 1174.4L733.8 1176.8L734.9 1176.1L736.0 1172.4L737.1 1174.0L738.2 1172.2L739.3 1174.8L740.4 1172.1L741.5 1175.3L742.6 1174.2L743.7 1175.2L744.8 1173.1L745.9 1170.6L747.0 1176.5L748.1 1172.9L749.2 1175.6L750.3 1173.8L751.4 1174.2L752.5 1176.2L753.6 1173.4L754.7 1175.2L755.8 1169.8L756.9 1174.1L758.0 1171.9L759.1 1172.0L760.2 1172.1L761.3 1172.6L762.4 1174.9L763.5 1168.3L764.6 1171.6L765.7 1170.1L766.8 1173.4L767.9 1170.3L769.0 1171.7L770.1 1169.9L771.2 1171.7L772.3 1172.2L773.4 1169.3L774.5 1169.9L775.6 1166.8L776.7 1169.8L777.8 1170.5L778.9 1167.5L780.0 1170.3L781.1 1163.9L782.2 1163.9L783.3 1164.3L784.4 1165.5L785.5 1166.0L786.6 1165.2L787.7 1164.6L788.8 1165.4L789.9 1162.2L791.0 1159.8L792.1 1158.8L793.2 1164.3L794.3 1154.1L795.4 1157.0L796.5 1158.5L797.6 1154.4L798.7 1149.2L799.8 1147.7L800.9 1145.6L802.0 1141.4L803.1 1130.2L804.2 1125.7L805.3 1113.9L806.4 1102.8L807.5 1087.3L808.6 1062.9L809.7 1036.3L810.8 1015.3L811.9 991.0L813.0 957.4L814.1 926.8L815.2 910.5L816.3 880.8L817.3 879.6L818.5 884.7L819.6 905.2L820.7 930.9L821.8 965.0L822.9 986.6L824.0 1016.4L825.1 1039.2L826.2 1067.7L827.3 1084.1L828.4 1102.0L829.5 1111.0L830.6 1122.7L831.7 1133.7L832.8 1137.0L833.9 1143.4L835.0 1146.8L836.1 1147.8L837.2 1147.6L838.3 1154.7L839.4 1154.5L840.5 1157.3L841.6 1152.2L842.7 1153.7L843.8 1153.3L844.9 1156.2L846.0 1160.2L847.1 1159.2L848.2 1157.7L849.3 1157.5L850.4 1158.2L851.5 1155.2L852.6 1155.7L853.7 1154.2L854.8 1148.5L855.9 1151.4L857.0 1154.4L858.1 1150.5L859.0 1151.3L860.3 1150.6L861.4 1151.7L862.5 1156.1L863.6 1154.5L864.7 1154.4L865.8 1151.7L866.9 1158.1L868.0 1156.7L869.1 1158.1L870.2 1164.3L871.3 1164.9L872.4 1160.6L873.5 1166.5L874.6 1166.2L875.7 1164.1L876.8 1167.3L877.9 1163.0L879.0 1164.0L880.1 1163.7L881.2 1164.4L882.3 1168.2L883.4 1164.1L884.5 1164.4L885.6 1164.8L886.7 1167.0L887.8 1166.0L888.9 1168.3L890.0 1165.3L891.1 1164.1L892.2 1165.6L893.3 1166.6L894.4 1164.7L895.5 1167.0L896.6 1169.9L897.7 1165.2L898.8 1166.4L899.9 1168.8L901.0 1164.9L902.1 1164.5L903.2 1163.9L904.3 1166.7L905.4 1166.8L906.5 1165.5L907.6 1165.8L908.7 1168.1L909.8 1167.2L910.9 1162.8L912.0 1165.4L913.1 1165.5L914.2 1166.6L915.3 1164.7L916.4 1163.8L917.5 1164.1L918.6 1161.4L919.7 1164.7L920.8 1163.5L921.9 1165.5L923.0 1162.6L924.1 1163.6L925.2 1162.5L926.3 1162.2L927.4 1165.6L928.5 1163.3L929.6 1164.9L930.7 1161.8L931.8 1164.1L932.9 1160.6L934.0 1162.9L935.1 1162.8L936.2 1164.8L937.3 1163.9L938.4 1163.2L939.5 1165.1L940.6 1163.7L941.7 1164.3L942.8 1164.7L943.9 1163.0L945.0 1162.5L946.1 1163.6L947.2 1162.0L948.3 1163.5L949.4 1164.8L950.5 1164.2L951.6 1161.7L952.7 1159.8L953.8 1162.1L954.9 1161.8L956.0 1164.1L957.1 1161.0L958.2 1161.2L959.3 1162.9L960.4 1160.3L961.5 1160.7L962.6 1164.2L963.7 1163.6L964.8 1161.7L965.9 1160.8L967.0 1158.1L968.1 1160.9L969.2 1159.7L970.3 1159.8L971.4 1158.1L972.5 1158.8L973.6 1158.3L974.7 1159.0L975.8 1161.0L976.9 1158.6L978.0 1154.4L979.1 1155.5L980.2 1154.0L981.3 1155.4L982.4 1157.9L983.5 1157.3L984.6 1155.1L985.7 1156.6L986.8 1154.3L987.9 1152.8L989.0 1152.6L990.1 1153.5L991.2 1157.9L992.3 1152.1L993.4 1157.1L994.5 1157.1L995.6 1153.8L996.7 1153.9L997.8 1152.5L998.9 1153.5L1000.0 1154.7L1001.1 1153.1L1002.2 1154.9L1003.3 1155.1L1004.4 1153.1L1005.5 1152.9L1006.6 1151.8L1007.7 1152.4L1008.8 1149.2L1009.9 1152.0L1011.0 1151.4L1012.1 1148.9L1013.2 1154.8L1014.3 1148.1L1015.4 1148.0L1016.5 1150.1L1017.6 1145.1L1018.7 1147.2L1019.8 1145.3L1020.9 1146.0L1022.0 1147.4L1023.1 1147.9L1024.2 1149.2L1025.3 1148.1L1026.4 1148.5L1027.5 1146.8L1028.6 1144.1L1029.7 1147.0L1030.8 1143.1L1031.9 1142.4L1033.0 1146.5L1034.1 1144.4L1035.2 1142.8L1036.3 1143.5L1037.4 1143.3L1038.5 1138.1L1039.6 1140.4L1040.7 1137.6L1041.8 1140.1L1042.9 1138.0L1044.0 1142.0L1045.1 1139.8L1046.2 1136.6L1047.3 1138.0L1048.4 1135.0L1049.5 1137.4L1050.6 1138.2L1051.7 1137.2L1052.8 1132.0L1053.9 1135.1L1055.0 1136.6L1056.1 1135.8L1057.2 1137.3L1058.3 1131.4L1059.4 1135.0L1060.5 1131.9L1061.6 1133.3L1062.7 1133.2L1063.8 1133.3L1064.9 1129.9L1066.0 1131.0L1067.1 1127.2L1068.2 1126.0L1069.3 1129.7L1070.4 1127.5L1071.5 1123.2L1072.6 1124.1L1073.7 1125.3L1074.8 1128.0L1075.9 1126.0L1077.0 1124.6L1078.1 1117.8L1079.2 1120.9L1080.3 1121.4L1081.4 1120.5L1082.5 1119.8L1083.6 1117.4L1084.7 1121.4L1085.8 1119.9L1086.9 1115.3L1088.0 1112.3L1089.1 1118.7L1090.2 1111.5L1091.3 1114.7L1092.4 1115.3L1093.5 1107.2L1094.6 1108.9L1095.7 1105.6L1096.8 1105.8L1097.9 1103.3L1099.0 1105.3L1100.1 1099.9L1101.2 1096.5L1102.3 1097.9L1103.4 1093.0L1104.5 1091.5L1105.6 1097.0L1106.7 1087.9L1107.8 1087.7L1108.9 1088.0L1110.0 1084.0L1111.1 1080.2L1112.2 1087.5L1113.3 1081.6L1114.4 1081.1L1115.5 1080.4L1116.6 1077.6L1117.7 1076.1L1118.8 1078.1L1119.9 1083.0L1121.0 1077.3L1122.1 1076.1L1123.2 1068.6L1124.3 1071.3L1125.4 1066.6L1126.5 1070.4L1127.6 1065.8L1128.7 1064.5L1129.8 1061.5L1130.9 1057.0L1132.0 1050.9L1133.1 1053.5L1134.2 1044.7L1135.3 1042.6L1136.4 1042.8L1137.5 1039.3L1138.6 1039.9L1139.7 1039.8L1140.8 1034.7L1141.9 1031.4L1143.0 1027.4L1144.1 1026.2L1145.2 1013.8L1146.3 1017.5L1147.4 1010.5L1148.5 1006.3L1149.6 1006.7L1150.7 1001.2L1151.8 999.4L1152.9 995.5L1154.0 978.0L1155.1 978.9L1156.2 979.4L1157.3 969.9L1158.4 966.5L1159.5 956.6L1160.6 946.1L1161.7 942.1L1162.8 943.6L1163.9 939.3L1165.0 928.0L1166.1 924.1L1167.2 920.3L1168.3 906.4L1169.4 904.4L1170.5 904.1L1171.6 897.8L1172.7 879.8L1173.8 877.9L1174.9 858.9L1176.0 848.1L1177.1 833.0L1178.2 837.1L1179.3 822.5L1180.4 824.5L1181.5 805.6L1182.6 792.3L1183.7 768.0L1184.8 765.2L1185.9 736.7L1187.0 714.9L1188.1 680.7L1189.2 669.5L1190.3 639.2L1191.4 587.7L1192.5 526.1L1193.6 428.3L1194.7 344.2L1195.8 262.4L1196.9 76.5L1197.2 -40.0L1304.0 -40.0L1304.3 4.8L1305.4 66.9L1306.5 104.8L1307.6 125.7L1308.7 178.9L1309.8 241.0L1310.9 291.1L1312.0 347.0L1313.1 411.3L1314.2 450.1L1315.3 502.5L1316.4 539.9L1317.5 563.4L1318.6 571.9L1319.7 595.1L1320.8 613.7L1321.9 615.5L1323.0 635.6L1324.1 640.0L1325.2 656.2L1326.3 688.2L1327.4 705.9L1328.5 727.1L1329.6 743.3L1330.7 763.2L1331.8 785.0L1332.9 804.3L1334.0 810.5L1335.1 818.3L1336.2 843.6L1337.3 853.1L1338.4 865.0L1339.5 873.9L1340.6 892.6L1341.7 893.6L1342.8 904.5L1343.9 904.4L1345.0 916.9L1346.1 923.4L1347.2 932.2L1348.3 939.7L1349.4 941.6L1350.5 956.2L1351.6 952.1L1352.7 960.0L1353.8 968.2L1354.9 969.2L1356.0 981.3L1357.1 987.3L1358.2 990.0L1359.3 1002.7L1360.4 1002.0L1361.5 1007.7L1362.6 1008.7L1363.7 1011.3L1364.8 1019.1L1365.9 1024.4L1367.0 1028.1L1368.1 1035.7L1369.2 1030.0L1370.3 1037.5L1371.4 1039.1L1372.5 1052.0L1373.6 1049.9L1374.7 1053.5L1375.8 1055.2L1376.9 1064.0L1378.0 1063.4L1379.1 1068.1L1380.2 1064.7L1381.3 1076.3L1382.4 1076.8L1383.5 1079.8L1384.6 1084.2L1385.7 1082.8L1386.8 1085.2L1387.9 1089.9L1389.0 1091.4L1390.1 1091.9L1391.2 1094.9L1392.3 1095.7L1393.4 1100.9L1394.5 1102.8L1395.6 1102.1L1396.7 1108.3L1397.8 1101.2L1398.9 1105.9L1400.0 1112.1L1401.1 1108.2L1402.2 1106.7L1403.3 1115.2L1404.4 1114.4L1405.5 1111.3L1406.6 1117.1L1407.7 1113.8L1408.8 1114.0L1409.9 1117.8L1411.0 1117.8L1412.1 1117.2L1413.2 1119.7L1414.3 1119.0L1415.4 1122.2L1416.5 1122.7L1417.6 1125.2L1418.7 1123.1L1419.8 1121.7L1420.9 1122.4L1422.0 1125.5L1423.1 1130.3L1424.2 1129.4L1425.3 1126.7L1426.4 1131.0L1427.5 1126.9L1428.6 1132.6L1429.7 1130.1L1430.8 1133.5L1431.9 1133.9L1433.0 1132.6L1434.1 1134.7L1435.2 1132.3L1436.3 1135.2L1437.4 1138.5L1438.5 1145.9L1439.6 1139.0L1440.7 1138.4L1441.8 1136.6L1442.9 1141.8L1444.0 1136.5L1445.1 1139.0L1446.2 1142.2L1447.3 1139.4L1448.4 1145.9L1449.5 1145.5L1450.6 1142.4L1451.7 1143.0L1452.8 1142.0L1453.9 1142.3L1455.0 1146.9L1456.1 1147.8L1457.2 1147.8L1458.3 1148.1L1459.4 1146.9L1460.5 1149.4L1461.6 1146.0L1462.7 1149.6L1463.8 1153.1L1464.9 1153.2L1466.0 1149.9L1467.1 1150.5L1468.2 1154.4L1469.3 1155.6L1470.4 1149.0L1471.5 1151.5L1472.6 1153.1L1473.7 1155.2L1474.8 1151.1L1475.9 1154.3L1477.0 1152.5L1478.1 1158.1L1479.2 1154.2L1480.3 1153.1L1481.4 1152.8L1482.5 1155.7L1483.6 1155.0L1484.7 1151.4L1485.8 1154.1L1486.9 1151.0L1488.0 1152.2L1489.1 1151.1L1490.2 1151.1L1491.3 1152.4L1492.4 1151.8L1493.5 1154.9L1494.6 1155.4L1495.7 1153.3L1496.8 1151.4L1497.9 1155.3L1499.0 1149.5L1500.1 1149.6L1501.2 1155.0L1502.3 1154.8L1503.4 1155.4L1504.5 1152.9L1505.6 1150.6L1506.7 1152.1L1507.8 1154.2L1508.9 1151.3L1510.0 1151.3L1511.1 1149.7L1512.2 1150.0L1513.3 1154.0L1514.4 1152.9L1515.5 1149.3L1516.6 1149.1L1517.7 1149.8L1518.8 1151.6L1519.9 1147.3L1521.0 1148.5L1522.1 1143.2L1523.2 1143.6L1524.3 1145.2L1525.4 1143.7L1526.5 1135.9L1527.6 1132.6L1528.7 1131.1L1529.8 1122.0L1530.9 1114.1L1532.0 1107.8L1533.1 1096.8L1534.2 1087.7L1535.3 1074.3L1536.4 1057.0L1537.5 1044.3L1538.6 1030.6L1539.7 1013.5L1540.8 1003.2L1541.9 1000.6L1543.0 986.7L1544.0 990.6L1545.2 994.1L1546.3 999.4L1547.4 1011.5L1548.5 1023.6L1549.6 1039.6L1550.7 1049.2L1551.8 1064.2L1552.9 1078.1L1554.0 1096.6L1555.1 1105.9L1556.2 1111.9L1557.3 1122.5L1558.4 1129.5L1559.5 1137.8L1560.6 1143.7L1561.7 1152.5L1562.8 1147.5L1563.9 1156.3L1565.0 1157.4L1566.1 1157.0L1567.2 1159.7L1568.3 1160.3L1569.4 1162.4L1570.5 1165.2L1571.6 1161.0L1572.7 1167.2L1573.8 1164.5L1574.9 1168.7L1576.0 1167.1L1577.1 1169.1L1578.2 1168.3L1579.3 1169.7L1580.4 1168.1L1581.5 1166.8L1582.6 1170.0L1583.7 1170.4L1584.8 1173.4L1585.9 1165.9L1587.0 1169.6L1588.1 1172.3L1589.2 1168.2L1590.3 1170.4L1591.4 1175.0L1592.5 1174.0L1593.6 1169.9L1594.7 1174.4L1595.8 1174.2L1596.9 1173.6L1598.0 1173.1L1599.1 1173.0L1600.2 1171.1L1601.3 1172.0L1602.4 1174.5L1603.5 1173.5L1604.6 1176.8L1605.7 1172.9L1606.8 1169.3L1607.9 1173.2L1609.0 1174.5L1610.1 1174.8L1611.2 1174.3L1612.3 1172.8L1613.4 1177.1L1614.5 1173.2L1615.6 1175.8L1616.7 1174.1L1617.8 1172.5L1618.9 1177.3L1620.0 1170.1L1621.1 1173.2L1622.2 1175.6L1623.3 1174.2L1624.4 1176.3L1625.5 1174.8L1626.6 1174.1L1627.7 1179.0L1628.8 1174.6L1629.9 1174.8L1631.0 1173.1L1632.1 1173.8L1633.2 1176.4L1634.3 1176.2L1635.4 1175.2L1636.5 1174.0L1637.6 1176.5L1638.7 1172.2L1639.8 1174.7L1640.9 1174.9L1642.0 1173.8L1643.1 1175.7L1644.2 1174.2L1645.3 1174.0L1646.4 1178.8L1647.5 1176.8L1648.6 1177.7L1649.7 1175.6L1650.8 1177.3L1651.9 1177.0L1653.0 1177.8L1654.1 1179.9L1655.2 1175.2L1656.3 1176.1L1657.4 1175.6L1658.5 1169.3L1659.6 1173.1L1660.7 1175.7L1661.8 1176.9L1662.9 1174.7L1664.0 1177.8L1665.1 1178.1L1666.2 1175.0L1667.3 1178.4L1668.4 1179.0L1669.5 1176.7L1670.6 1174.1L1671.7 1178.5L1672.8 1175.6L1673.9 1175.2L1675.0 1176.1L1676.1 1174.9L1677.2 1177.9L1678.3 1177.4L1679.4 1178.2L1680.5 1177.0L1681.6 1174.5L1682.7 1175.7L1683.8 1177.6L1684.9 1175.3L1686.0 1181.4L1687.1 1175.6L1688.2 1175.0L1689.3 1178.2L1690.4 1177.4L1691.5 1176.0L1692.6 1175.7L1693.7 1176.9L1694.8 1177.6L1695.9 1177.5L1697.0 1175.6L1698.1 1176.9L1699.2 1177.7L1700.3 1177.6L1701.4 1170.6L1702.5 1174.6L1703.6 1174.8L1704.7 1175.8L1705.8 1176.5L1706.9 1177.9L1708.0 1177.3L1709.1 1176.0L1710.2 1176.3L1711.3 1179.5L1712.4 1175.1L1713.5 1176.8L1714.6 1179.1L1715.7 1176.9L1716.8 1172.6L1717.9 1177.0L1719.0 1175.6L1720.1 1176.1L1721.2 1178.2L1722.3 1177.2L1723.4 1175.8L1724.5 1178.0L1725.6 1177.1L1726.7 1176.5L1727.8 1176.9L1728.9 1176.8L1730.0 1175.8L1731.1 1175.5L1732.2 1176.4L1733.3 1174.7L1734.4 1174.1L1735.5 1178.8L1736.6 1176.0L1737.7 1176.4L1738.8 1176.2L1739.9 1176.5L1741.0 1176.5L1742.1 1176.5L1743.2 1175.0L1744.3 1178.1L1745.4 1175.2L1746.5 1178.3L1747.6 1173.0L1748.7 1174.5L1749.8 1178.3L1750.9 1176.2L1752.0 1175.3L1753.1 1177.2L1754.2 1174.6L1755.3 1176.6L1756.4 1172.5L1757.5 1175.7L1758.6 1175.3L1759.7 1177.5L1760.8 1178.1L1761.9 1175.0L1763.0 1179.4L1764.1 1175.4L1765.2 1172.8L1766.3 1172.2L1767.4 1179.3L1768.5 1176.4L1769.6 1175.4L1770.7 1175.2L1771.8 1174.6L1772.9 1179.0L1774.0 1176.4L1775.1 1179.8L1776.2 1176.2L1777.3 1172.3L1778.4 1178.1L1779.5 1175.9L1780.6 1176.1L1781.7 1179.4L1782.8 1176.1L1783.9 1178.7L1785.0 1176.6L1786.1 1175.2L1787.2 1177.5L1788.3 1175.5L1789.4 1178.8L1790.5 1178.3L1791.6 1176.7L1792.7 1177.7L1793.8 1177.6L1794.9 1176.1L1796.0 1178.2L1797.1 1176.2L1798.2 1177.7L1799.3 1174.9L1800.4 1176.8L1801.5 1177.4L1802.6 1175.2L1803.7 1175.9L1804.8 1175.6L1805.9 1177.9L1807.0 1175.3L1808.1 1177.4L1809.2 1179.4L1810.3 1177.2L1811.4 1173.7L1812.5 1176.8L1813.6 1178.4L1814.7 1176.0L1815.8 1178.5L1816.9 1177.5L1818.0 1177.1L1819.1 1175.8L1820.2 1175.2L1821.3 1175.5L1822.4 1175.9L1823.5 1176.5L1824.6 1176.1L1825.7 1174.5L1826.8 1174.9L1827.9 1175.2L1829.0 1171.3L1830.1 1172.6L1831.2 1172.4L1832.3 1173.4L1833.0 1173.7L1834.5 1173.4L1835.6 1172.4L1836.7 1175.5L1837.8 1175.0L1838.9 1171.7L1840.0 1175.1L1841.1 1173.3L1842.2 1178.7L1843.3 1175.0L1844.4 1175.3L1845.5 1176.3L1846.6 1175.9L1847.7 1176.3L1848.8 1179.3L1849.9 1177.0L1851.0 1178.1L1852.1 1178.7L1853.2 1174.9L1854.3 1179.8L1855.4 1178.0L1856.5 1178.5L1857.6 1175.2L1858.7 1178.2L1859.8 1177.5L1860.9 1175.8L1862.0 1180.9L1863.1 1177.8L1864.2 1176.4L1865.3 1177.2L1866.4 1178.5L1867.5 1178.9L1868.6 1177.9L1869.7 1179.0L1870.8 1179.5L1871.9 1174.6L1873.0 1176.0L1874.1 1175.2L1875.2 1177.0L1876.3 1179.5L1877.4 1178.1L1878.5 1175.0L1879.6 1176.3L1880.7 1178.8L1881.8 1175.9L1882.9 1176.7L1884.0 1177.5L1885.1 1173.6L1886.2 1178.3L1887.3 1177.5L1888.4 1177.9L1889.5 1175.1L1890.6 1175.5L1891.7 1175.8L1892.8 1177.4L1893.9 1177.1L1895.0 1177.2L1896.1 1180.2L1897.2 1179.3L1898.3 1175.6L1899.4 1175.8L1900.5 1180.1L1901.6 1176.4L1902.7 1179.5L1903.8 1179.9L1904.9 1176.0L1906.0 1176.5L1907.1 1177.1L1908.2 1175.4L1909.3 1175.2L1910.4 1176.3L1911.5 1178.5L1912.6 1176.2L1913.7 1176.6L1914.8 1176.2L1915.9 1174.5L1917.0 1179.7L1918.1 1172.8L1919.2 1175.8L1920.3 1178.0L1921.4 1174.5L1922.5 1178.1L1923.6 1179.3L1924.7 1175.5L1925.8 1177.4L1926.9 1175.0L1928.0 1178.0L1929.1 1177.2L1930.2 1177.4L1931.3 1179.5L1932.4 1177.9L1933.5 1179.5L1934.6 1178.2L1935.7 1174.9L1936.8 1177.6L1937.9 1178.0L1939.0 1174.5L1940.1 1179.5L1941.2 1177.2L1942.3 1177.8L1943.4 1175.5L1944.5 1177.2L1945.6 1177.6L1946.7 1176.5L1947.8 1177.3L1948.9 1173.3L1950.0 1179.6L1951.1 1175.1L1952.2 1173.2L1953.3 1175.4L1954.4 1175.6L1955.5 1178.1L1956.6 1175.5L1957.7 1177.6L1958.8 1175.4L1959.9 1181.1L1961.0 1178.1L1962.1 1180.7L1963.2 1175.3L1964.3 1178.4L1965.4 1175.4L1966.5 1178.2L1967.6 1178.4L1968.7 1174.3L1969.8 1175.1L1970.9 1175.1L1972.0 1174.4L1973.1 1175.8L1974.2 1175.4L1975.3 1174.6L1976.4 1177.3L1977.5 1178.2L1978.6 1174.8L1979.7 1176.2L1980.8 1177.2L1981.9 1176.8L1983.0 1175.9L1984.1 1178.6L1985.2 1178.7L1986.3 1178.4L1987.4 1176.8L1988.5 1180.8L1989.6 1180.3L1990.7 1176.5L1991.8 1177.0L1992.9 1179.3L1994.0 1175.7L1995.1 1177.9L1996.2 1177.3L1997.3 1175.9L1998.4 1176.8L1999.5 1174.3L2000.6 1176.2L2001.7 1173.6L2002.8 1181.3L2003.9 1179.9L2005.0 1179.4L2006.1 1177.7L2007.2 1179.0L2008.3 1179.5L2009.4 1179.0L2010.5 1178.8L2011.6 1175.5L2012.7 1177.9L2013.8 1176.2L2014.9 1175.0L2016.0 1175.1L2017.1 1177.9L2018.2 1179.0L2019.3 1174.6L2020.4 1180.3L2021.5 1179.8L2022.6 1176.4L2023.7 1176.2L2024.8 1176.9L2025.9 1178.8L2027.0 1176.3L2028.1 1175.0L2029.2 1177.6L2030.3 1173.2L2031.4 1177.1L2032.5 1178.9L2033.6 1177.2L2034.7 1178.0L2035.8 1177.3L2036.9 1177.6L2038.0 1176.3L2039.1 1174.3L2040.2 1175.0L2041.3 1174.9L2042.4 1176.9L2043.5 1177.1L2044.6 1174.2L2045.7 1171.4L2046.8 1170.7L2047.9 1170.9L2049.0 1173.1L2050.1 1170.3L2051.2 1168.7L2052.3 1166.7L2053.4 1169.2L2054.5 1167.5L2055.6 1166.5L2057.0 1166.4L2057.8 1169.7L2058.9 1166.4L2060.0 1170.4L2061.1 1170.1L2062.2 1168.6L2063.3 1170.9L2064.4 1169.8L2065.5 1169.3L2066.6 1171.2L2067.7 1170.8L2068.8 1174.1L2069.9 1173.8L2071.0 1175.4L2072.1 1176.4L2073.2 1169.6L2074.3 1176.3L2075.4 1172.7L2076.5 1176.6L2077.6 1174.9L2078.7 1176.8L2079.8 1179.2L2080.9 1173.8L2082.0 1177.3L2083.1 1176.9L2084.2 1173.6L2085.3 1178.3L2086.4 1177.2L2087.5 1176.3L2088.6 1175.9L2089.7 1183.1L2090.8 1176.5L2091.9 1174.0L2093.0 1175.6L2094.1 1176.7L2095.2 1176.6L2096.3 1177.2L2097.4 1175.5L2098.5 1178.3L2099.6 1176.5L2100.7 1174.9L2101.8 1175.9L2102.9 1176.7L2104.0 1179.0L2105.1 1178.3L2106.2 1176.8L2107.3 1177.5L2108.4 1177.8L2109.5 1181.1L2110.6 1176.4L2111.7 1178.3L2112.8 1178.8L2113.9 1175.8L2115.0 1177.8L2116.1 1177.8L2117.2 1176.7L2118.3 1178.5L2119.4 1179.4L2120.5 1179.6L2121.6 1177.2L2122.7 1177.9L2123.8 1181.8L2124.9 1175.6L2126.0 1178.0L2127.1 1179.2L2128.2 1177.8L2129.3 1178.8L2130.4 1177.9L2131.5 1178.9L2132.6 1179.9L2133.7 1177.2L2134.8 1177.9L2135.9 1177.5L2137.0 1176.9L2138.1 1177.6L2139.2 1175.6L2140.3 1179.0L2141.4 1180.7L2142.5 1180.7L2143.6 1179.9L2144.7 1175.9L2145.8 1180.4L2146.9 1176.3L2148.0 1177.5L2149.1 1181.0L2150.2 1175.7L2151.3 1179.2L2152.4 1178.2L2153.5 1177.4L2154.6 1176.1L2155.7 1178.4L2156.8 1176.8L2157.9 1179.6L2159.0 1179.9L2160.1 1175.2L2161.2 1176.8L2162.3 1177.1L2163.4 1175.6L2164.5 1175.7L2165.6 1177.8L2166.7 1177.3L2167.8 1174.7L2168.9 1176.7L2170.0 1178.6L2171.1 1175.5L2172.2 1176.0L2173.3 1180.6L2174.4 1180.1L2175.5 1174.8L2176.6 1175.3L2177.7 1178.4L2178.8 1175.6L2179.9 1177.3L2181.0 1176.9L2182.1 1178.7L2183.2 1173.2L2184.3 1173.8L2185.4 1175.5L2186.5 1179.6L2187.6 1177.5L2188.7 1174.7L2189.8 1178.6L2190.9 1179.0L2192.0 1177.3L2193.1 1177.2L2194.2 1178.6L2195.3 1179.9L2196.4 1178.0L2197.5 1178.7L2198.6 1177.7L2199.7 1177.1L2200.8 1176.1L2201.9 1178.2L2203.0 1177.2L2204.1 1177.3L2205.2 1179.5L2206.3 1178.7L2207.4 1179.4L2208.5 1175.0L2209.6 1178.8L2210.7 1176.7L2211.8 1176.3L2212.9 1176.3L2214.0 1180.0L2215.1 1179.3L2216.2 1176.5L2217.3 1175.8L2218.4 1177.8L2219.5 1177.0L2220.6 1180.8L2221.7 1175.2L2222.8 1174.5L2223.9 1177.4L2225.0 1177.9L2226.1 1178.1L2227.2 1179.2L2228.3 1181.6L2229.4 1177.2L2230.5 1176.9L2231.6 1174.7L2232.7 1178.3L2233.8 1179.4L2234.9 1177.4L2236.0 1180.0L2237.1 1177.9L2238.2 1180.6L2239.3 1178.5L2240.4 1176.0L2241.5 1176.7L2242.6 1175.1L2243.7 1174.7L2244.8 1178.4L2245.9 1179.4L2247.0 1181.4L2248.1 1177.8L2249.2 1177.5L2250.3 1175.9L2251.4 1179.7L2252.5 1178.6L2253.6 1176.8L2254.7 1179.1L2255.8 1178.9L2256.9 1174.5L2258.0 1179.2L2259.1 1178.1L2260.2 1177.2L2261.3 1177.1L2262.4 1181.1L2263.5 1180.7L2264.6 1181.2L2265.7 1175.8L2266.8 1176.7L2267.9 1179.5L2269.0 1175.7L2270.1 1176.6L2271.2 1174.7L2272.3 1181.3L2273.4 1179.8L2274.5 1178.7L2275.6 1178.3L2276.7 1177.2L2277.8 1177.2L2278.9 1179.0L2280.0 1176.7L2281.1 1180.1L2282.2 1177.0L2283.3 1176.4L2284.4 1180.3L2285.5 1177.7L2286.6 1178.9L2287.7 1177.2L2288.8 1173.9L2289.9 1178.9L2291.0 1175.5L2292.1 1179.9L2293.2 1175.2L2294.3 1174.6L2295.4 1178.5L2296.5 1178.7L2297.6 1178.2L2298.7 1175.8L2299.8 1179.6L2300.9 1175.3L2302.0 1177.1L2303.1 1176.5L2304.2 1177.3L2305.3 1179.5L2306.4 1176.8L2307.5 1179.0L2308.6 1179.2L2309.7 1174.9L2310.8 1175.9" stroke="#1e73e6" stroke-width="10.2"/>
<path d="M208.0 873.3L209.1 872.9L210.2 874.5L211.3 870.5L212.4 875.3L213.5 875.3L214.6 873.7L215.7 871.5L216.8 874.0L217.9 873.0L219.0 875.0L220.1 873.8L221.2 875.3L222.3 873.2L223.4 876.6L224.5 869.8L225.6 872.1L226.7 874.8L227.8 871.2L228.9 875.3L230.0 871.8L231.1 874.1L232.2 872.3L233.3 873.2L234.4 874.3L235.5 873.8L236.6 873.3L237.7 877.8L238.8 874.0L239.9 872.2L241.0 875.6L242.1 875.4L243.2 876.1L244.3 877.2L245.4 872.2L246.5 875.8L247.6 876.0L248.7 873.9L249.8 874.4L250.9 868.5L252.0 872.9L253.1 877.1L254.2 870.7L255.3 873.0L256.4 874.4L257.5 874.9L258.6 876.8L259.7 870.7L260.8 874.0L261.9 875.5L263.0 871.5L264.1 873.8L265.2 877.3L266.3 876.3L267.4 874.9L268.5 869.2L269.6 873.6L270.7 874.6L271.8 873.3L272.9 873.7L274.0 879.4L275.1 873.5L276.2 872.1L277.3 874.3L278.4 873.3L279.5 873.3L280.6 873.7L281.7 875.2L282.8 874.2L283.9 871.6L285.0 873.5L286.1 874.6L287.2 872.9L288.3 875.8L289.4 875.1L290.5 871.9L291.6 874.3L292.7 877.3L293.8 876.5L294.9 873.5L296.0 875.2L297.1 872.4L298.2 870.9L299.3 874.5L300.4 873.9L301.5 874.4L302.6 873.3L303.7 873.9L304.8 872.3L305.9 874.0L307.0 874.6L308.1 872.9L309.2 874.3L310.3 869.4L311.4 871.0L312.5 874.7L313.6 874.9L314.7 871.5L315.8 869.9L316.9 866.6L318.0 868.0L319.1 866.7L320.2 859.9L321.3 860.9L322.4 857.8L323.5 854.9L324.6 849.5L325.8 850.9L326.8 848.5L327.9 856.5L329.0 856.5L330.1 857.0L331.2 864.8L332.3 866.9L333.4 865.7L334.5 872.7L335.6 868.0L336.7 871.4L337.8 873.6L338.9 867.8L340.0 874.1L341.1 872.4L342.2 872.7L343.3 870.9L344.4 873.5L345.5 871.0L346.6 871.3L347.7 872.3L348.8 871.0L349.9 876.1L351.0 870.9L352.1 872.0L353.2 872.8L354.3 873.4L355.4 874.8L356.5 874.9L357.6 872.9L358.7 872.8L359.8 873.5L360.9 875.0L362.0 874.8L363.1 872.6L364.2 869.8L365.3 877.4L366.4 875.2L367.5 874.0L368.6 874.1L369.7 872.6L370.8 871.7L371.9 872.9L373.0 873.1L374.1 872.4L375.2 870.9L376.3 873.0L377.4 874.6L378.5 872.6L379.6 873.6L380.7 869.8L381.8 873.1L382.9 873.3L384.0 871.3L385.1 870.4L386.2 874.2L387.3 872.0L388.4 874.4L389.5 872.7L390.6 874.6L391.7 872.8L392.8 870.7L393.9 873.3L395.0 872.9L396.1 874.6L397.2 872.6L398.3 872.7L399.4 875.0L400.5 875.5L401.6 874.8L402.7 875.3L403.8 874.2L404.9 874.8L406.0 875.0L407.1 874.1L408.2 873.5L409.3 873.6L410.4 877.7L411.5 873.4L412.6 872.9L413.7 872.7L414.8 873.3L415.9 873.8L417.0 871.3L418.1 869.7L419.2 873.8L420.3 870.4L421.4 873.7L422.5 873.5L423.6 875.3L424.7 876.3L425.8 873.9L426.9 872.2L428.0 871.1L429.1 871.8L430.2 873.3L431.3 869.5L432.4 873.3L433.5 873.2L434.6 874.4L435.7 872.6L436.8 873.4L437.9 871.8L439.0 872.3L440.1 870.0L441.2 873.4L442.3 876.0L443.4 873.4L444.5 873.8L445.6 871.4L446.7 875.7L447.8 871.7L448.9 874.6L450.0 873.3L451.1 871.4L452.2 875.0L453.3 873.1L454.4 873.4L455.5 873.9L456.6 873.0L457.7 872.4L458.8 873.9L459.9 872.3L461.0 873.2L462.1 871.8L463.2 870.3L464.3 871.8L465.4 872.1L466.5 873.1L467.6 875.2L468.7 870.0L469.8 873.2L470.9 869.0L472.0 871.1L473.1 872.1L474.2 868.9L475.3 869.6L476.4 873.3L477.5 873.1L478.6 872.8L479.7 871.5L480.8 876.9L481.9 872.7L483.0 871.4L484.1 876.0L485.2 874.1L486.3 872.3L487.4 875.1L488.5 873.2L489.6 874.1L490.7 873.4L491.8 871.1L492.9 874.7L494.0 873.2L495.1 871.1L496.2 871.6L497.3 874.7L498.4 872.3L499.5 873.0L500.6 874.1L501.7 873.2L502.8 870.2L503.9 874.1L505.0 874.7L506.1 874.5L507.2 875.9L508.3 873.6L509.4 874.4L510.5 875.8L511.6 872.4L512.7 876.1L513.8 876.1L514.9 874.4L516.0 876.3L517.1 874.5L518.2 871.4L519.3 875.0L520.4 873.6L521.5 873.7L522.6 873.3L523.7 875.4L524.8 874.0L525.9 871.7L527.0 873.9L528.1 874.3L529.2 871.7L530.3 872.2L531.4 872.3L532.5 871.9L533.6 873.7L534.7 874.9L535.8 876.5L536.9 875.2L538.0 874.9L539.1 875.1L540.2 875.5L541.3 872.4L542.4 874.3L543.5 873.6L544.6 872.8L545.7 872.3L546.8 872.2L547.9 872.6L549.0 870.9L550.1 874.0L551.2 873.1L552.3 873.3L553.4 873.7L554.5 874.4L555.6 872.1L556.7 872.9L557.8 870.2L558.9 869.1L560.0 869.6L561.1 875.9L562.2 869.9L563.3 874.0L564.4 875.9L565.5 872.4L566.6 876.1L567.7 876.5L568.8 874.9L569.9 877.5L571.0 874.3L572.1 871.9L573.2 874.2L574.3 872.4L575.4 870.9L576.5 871.0L577.6 877.5L578.7 872.3L579.8 873.2L580.9 872.1L582.0 873.6L583.1 872.9L584.2 872.6L585.3 871.1L586.4 870.8L587.5 872.0L588.6 873.9L589.7 877.1L590.8 875.3L591.9 876.7L593.0 874.3L594.1 873.2L595.2 871.0L596.3 873.4L597.4 869.6L598.5 872.9L599.6 876.4L600.7 874.0L601.8 875.5L602.9 872.8L604.0 871.0L605.1 872.6L606.2 872.8L607.3 875.7L608.4 877.1L609.5 872.2L610.6 872.9L611.7 873.3L612.8 872.9L613.9 871.3L615.0 873.7L616.1 874.2L617.2 874.3L618.3 871.4L619.4 873.4L620.5 870.5L621.6 875.3L622.7 871.8L623.8 873.1L624.9 872.8L626.0 872.6L627.1 871.7L628.2 870.5L629.3 876.8L630.4 874.1L631.5 874.1L632.6 877.5L633.7 873.5L634.8 874.7L635.9 873.7L637.0 875.8L638.1 874.6L639.2 874.3L640.3 873.3L641.4 874.2L642.5 875.8L643.6 870.0L644.7 873.5L645.8 873.0L646.9 873.2L648.0 870.2L649.1 875.1L650.2 872.2L651.3 873.4L652.4 872.9L653.5 870.8L654.6 873.0L655.7 870.5L656.8 872.1L657.9 873.2L659.0 873.8L660.1 873.9L661.2 873.6L662.3 877.7L663.4 874.6L664.5 871.6L665.6 872.7L666.7 872.6L667.8 873.5L668.9 872.7L670.0 872.3L671.1 876.8L672.2 873.9L673.3 873.2L674.4 873.4L675.5 873.4L676.6 876.3L677.7 874.7L678.8 875.9L679.9 868.2L681.0 874.4L682.1 875.7L683.2 877.4L684.3 873.9L685.4 870.7L686.5 874.9L687.6 872.7L688.7 870.6L689.8 872.7L690.9 875.7L692.0 876.0L693.1 875.1L694.2 871.9L695.3 878.3L696.4 871.7L697.5 873.7L698.6 871.2L699.7 876.2L700.8 874.6L701.9 875.4L703.0 873.9L704.1 873.6L705.2 874.1L706.3 870.4L707.4 875.5L708.5 875.4L709.6 873.0L710.7 873.7L711.8 874.3L712.9 876.5L714.0 874.5L715.1 873.8L716.2 872.8L717.3 871.0L718.4 872.6L719.5 873.8L720.6 873.2L721.7 873.8L722.8 875.0L723.9 874.4L725.0 874.1L726.1 874.8L727.2 873.9L728.3 873.5L729.4 874.4L730.5 870.4L731.6 875.8L732.7 871.2L733.8 875.0L734.9 873.5L736.0 875.4L737.1 873.5L738.2 871.7L739.3 875.3L740.4 873.7L741.5 873.5L742.6 873.4L743.7 875.1L744.8 874.7L745.9 873.6L747.0 870.4L748.1 872.4L749.2 873.3L750.3 876.3L751.4 873.7L752.5 872.8L753.6 875.1L754.7 872.7L755.8 872.8L756.9 873.1L758.0 870.1L759.1 874.5L760.2 873.5L761.3 872.1L762.4 870.5L763.5 872.9L764.6 875.0L765.7 871.2L766.8 870.4L767.9 873.0L769.0 869.3L770.1 868.0L771.2 871.2L772.3 870.6L773.4 871.3L774.5 870.7L775.6 872.2L776.7 871.0L777.8 870.2L778.9 870.3L780.0 872.1L781.1 872.6L782.2 872.3L783.3 871.7L784.4 864.1L785.5 868.1L786.6 869.0L787.7 869.7L788.8 866.0L789.9 871.2L791.0 868.7L792.1 866.5L793.2 867.3L794.3 865.7L795.4 864.1L796.5 865.5L797.6 862.5L798.7 859.1L799.8 858.6L800.9 857.1L802.0 851.9L803.1 852.6L804.2 842.6L805.3 842.3L806.4 832.8L807.5 819.5L808.6 811.6L809.7 802.9L810.8 787.5L811.9 773.2L813.0 766.7L814.1 765.1L815.2 756.9L816.3 761.0L817.4 766.3L818.5 775.9L819.6 786.7L820.7 798.8L821.8 813.4L822.9 822.6L824.0 828.0L825.1 841.2L826.2 841.4L827.3 850.6L828.4 853.6L829.5 858.8L830.6 859.5L831.7 862.7L832.8 862.0L833.9 865.1L835.0 864.7L836.1 868.8L837.2 863.9L838.3 867.9L839.4 866.7L840.5 866.3L841.6 864.9L842.7 866.8L843.8 862.9L844.9 862.7L846.0 866.1L847.1 861.1L848.2 865.9L849.3 861.6L850.4 861.4L851.5 859.8L852.6 859.1L853.7 856.2L854.8 854.5L855.9 853.5L857.0 854.5L858.1 853.4L859.2 852.7L860.3 850.2L861.4 848.6L862.0 848.8L863.6 850.7L864.7 851.9L865.8 850.3L866.9 854.1L868.0 856.5L869.1 855.6L870.2 859.1L871.3 859.1L872.4 856.7L873.5 860.5L874.6 861.9L875.7 864.9L876.8 863.2L877.9 864.9L879.0 864.6L880.1 866.9L881.2 867.6L882.3 869.6L883.4 869.5L884.5 868.6L885.6 868.8L886.7 868.7L887.8 868.7L888.9 871.4L890.0 863.9M896.6 869.9L897.7 867.4L898.8 864.6L899.9 867.4L901.0 865.8L902.1 869.2L903.2 866.3L904.3 871.2L905.4 868.1L906.5 866.2L907.6 866.8L908.7 865.6L909.8 868.3L910.9 870.4L912.0 867.1L913.1 869.2L914.2 865.7L915.3 868.0L916.4 871.7L917.5 864.7L918.6 869.6L919.7 869.4L920.8 863.7L921.9 864.5L923.0 865.3L924.1 868.9L925.2 866.2L926.3 866.7L927.4 868.3L928.5 867.1L929.6 867.3L930.7 866.2L931.8 868.8L932.9 865.2L934.0 869.8L935.1 865.9L936.2 865.0L937.3 867.6L938.4 867.2L939.5 862.5L940.6 866.6L941.7 863.5L942.8 864.4L943.9 867.3L945.0 864.1L946.1 866.2L947.2 864.7L948.3 869.0L949.4 865.0L950.5 862.8L951.6 862.8L952.7 863.0L953.8 864.8L954.9 864.4L956.0 866.1L957.1 864.4L958.2 864.2L959.3 864.4L960.4 863.4L961.5 864.0L962.6 864.8L963.7 864.7L964.8 862.0L965.9 859.5L967.0 861.2L968.1 863.1L969.2 857.6L970.3 861.4L971.4 863.0L972.5 860.9L973.6 859.7L974.7 865.1L975.8 864.3L976.9 861.0L978.0 863.9L979.1 863.7L980.2 858.9L981.3 866.1L982.4 859.0L983.5 860.1L984.6 858.4L985.7 860.5L986.8 857.7L987.9 860.1L989.0 862.1L990.1 860.2L991.2 859.2L992.3 862.6L993.4 857.6L994.5 861.2L995.6 858.5L996.7 859.4L997.8 858.9L998.9 858.9L1000.0 858.4L1001.1 856.8L1002.2 857.1L1003.3 859.0L1004.4 857.7L1005.5 855.5L1006.6 856.3L1007.7 856.2L1008.8 857.3L1009.9 857.7L1011.0 857.4L1012.1 855.7L1013.2 856.9L1014.3 854.1L1015.4 850.9L1016.5 856.4L1017.6 853.1L1018.7 854.3L1019.8 853.6L1020.9 857.1L1022.0 853.3L1023.1 856.1L1024.2 854.4L1025.3 852.7L1026.4 851.8L1027.5 855.7L1028.6 855.4L1029.7 855.9L1030.8 857.8L1031.9 854.4L1033.0 854.2L1034.1 853.1L1035.2 853.2L1036.3 851.9L1037.4 850.3L1038.5 855.8L1039.6 847.5L1040.7 851.3L1041.8 851.2L1042.9 850.2L1044.0 847.4L1045.1 848.5L1046.2 847.4L1047.3 845.7L1048.4 847.3L1049.5 846.1L1050.6 845.3L1051.7 847.3L1052.8 843.1L1053.9 845.7L1055.0 843.0L1056.1 844.6L1057.2 843.3L1058.3 843.1L1059.4 840.0L1060.5 839.9L1061.6 839.2L1062.7 840.8L1063.8 841.6L1064.9 841.8L1066.0 837.9L1067.1 838.7L1068.2 834.5L1069.3 832.7L1070.4 835.2L1071.5 835.1L1072.6 832.7L1073.7 831.7L1074.8 836.3L1075.9 832.8L1077.0 830.4L1078.1 838.7L1079.2 833.4L1080.3 831.7L1081.4 833.4L1082.5 829.6L1083.6 834.2L1084.7 826.6L1085.8 826.5L1086.9 828.5L1088.0 826.4L1089.1 830.7L1090.2 823.3L1091.3 824.7L1092.4 826.3L1093.5 826.4L1094.6 826.9L1095.7 824.8L1096.8 828.6L1097.9 822.0L1099.0 823.1L1100.1 824.2L1101.2 821.0L1102.3 820.6L1103.4 819.7L1104.5 818.8L1105.6 817.1L1106.7 817.9L1107.8 814.9L1108.9 818.7L1110.0 813.3L1111.1 821.0L1112.2 819.0L1113.3 816.4L1114.4 811.9L1115.5 809.6L1116.6 812.5L1117.7 808.5L1118.8 807.8L1119.9 803.0L1121.0 805.5L1122.1 799.1L1123.2 799.4L1124.3 793.0L1125.4 793.9L1126.5 795.1L1127.6 790.9L1128.7 789.3L1129.8 790.7L1130.9 786.8L1132.0 788.4L1133.1 776.9L1134.2 782.7L1135.3 780.5L1136.4 772.8L1137.5 771.2L1138.6 774.8L1139.7 767.2L1140.8 766.1L1141.9 767.2L1143.0 762.4L1144.1 762.5L1145.2 756.4L1146.3 757.3L1147.4 756.9L1148.5 751.8L1149.6 741.1L1150.7 745.3L1151.8 739.3L1152.9 732.2L1154.0 735.2L1155.1 722.1L1156.2 729.3L1157.3 718.1L1158.4 721.6L1159.5 713.7L1160.6 706.7L1161.7 708.1L1162.8 705.8L1163.9 703.4L1165.0 702.1L1166.1 692.9L1167.2 694.3L1168.3 690.9L1169.4 681.8L1170.5 672.3L1171.6 664.2L1172.7 661.8L1173.8 653.2L1174.9 638.0L1176.0 625.7L1177.1 623.2L1178.2 598.9L1179.3 589.2L1180.4 568.2L1181.5 547.8L1182.6 531.3L1183.7 481.2L1184.8 448.7L1185.9 418.4L1187.0 374.6L1188.1 351.7L1189.2 322.7L1190.3 279.5L1191.4 236.2L1192.5 183.9L1193.6 69.7L1194.5 -40.0L1306.5 -40.0L1306.8 6.2L1307.9 72.2L1309.0 118.9L1310.1 167.3L1311.2 218.6L1312.3 258.2L1313.4 281.8L1314.5 304.9L1315.6 336.1L1316.7 350.2L1317.8 375.3L1318.9 404.8L1320.0 429.2L1321.1 438.8L1322.2 451.0L1323.3 478.7L1324.4 488.2L1325.5 516.4L1326.6 542.2L1327.7 550.9L1328.8 551.1L1329.9 557.6L1331.0 574.7L1332.1 578.2L1333.2 583.4L1334.3 595.0L1335.4 599.0L1336.5 601.7L1337.6 619.6L1338.7 621.9L1339.8 628.2L1340.9 634.4L1342.0 647.4L1343.1 650.8L1344.2 662.8L1345.3 666.5L1346.4 677.7L1347.5 679.3L1348.6 685.0L1349.7 687.4L1350.8 696.9L1351.9 709.2L1353.0 722.9L1354.1 715.6L1355.2 722.2L1356.3 732.0L1357.4 737.8L1358.5 739.5L1359.6 746.7L1360.7 746.4L1361.8 754.7L1362.9 762.3L1364.0 768.4L1365.1 767.1L1366.2 770.3L1367.3 775.4L1368.4 780.1L1369.5 781.2L1370.6 780.6L1371.7 786.2L1372.8 790.3L1373.9 788.4L1375.0 789.3L1376.1 796.4L1377.2 798.4L1378.3 802.2L1379.4 802.3L1380.5 802.8L1381.6 805.6L1382.7 805.2L1383.8 806.0L1384.9 807.6L1386.0 808.4L1387.1 813.0L1388.2 808.0L1389.3 811.6L1390.4 811.0L1391.5 816.8L1392.6 814.7L1393.7 814.0L1394.8 817.7L1395.9 816.8L1397.0 816.4L1398.1 822.1L1399.2 821.1L1400.3 824.4L1401.4 824.0L1402.5 824.1L1403.6 823.7L1404.7 822.2L1405.8 827.7L1406.9 827.7L1408.0 830.6L1409.1 830.6L1410.2 830.7L1411.3 831.6L1412.4 836.9L1413.5 839.7L1414.6 837.5L1415.7 840.4L1416.8 843.6L1417.9 839.7L1419.0 841.6L1420.1 840.5L1421.2 845.9L1422.3 844.3L1423.4 843.2L1424.5 841.0L1425.6 844.5L1426.7 847.4L1427.8 844.9L1428.9 845.0L1430.0 847.5L1431.1 843.8L1432.2 846.8L1433.3 848.2L1434.4 845.5L1435.5 845.6L1436.6 848.1L1437.7 847.5L1438.8 847.4L1439.9 848.6L1441.0 848.8L1442.1 846.6L1443.2 847.3L1444.3 849.9L1445.4 851.5L1446.5 852.2L1447.6 847.8L1448.7 852.1L1449.8 851.6L1450.9 850.2L1452.0 851.5L1453.1 852.5L1454.2 854.8L1455.3 849.2L1456.4 853.0L1457.5 851.8L1458.6 852.1L1459.7 855.3L1460.8 855.1L1461.9 851.8L1463.0 853.7L1464.1 855.2L1465.2 852.4L1466.3 857.5L1467.4 856.1L1468.5 857.1L1469.6 857.9L1470.7 861.3L1471.8 858.2L1472.9 857.9L1474.0 862.5L1475.1 858.5L1476.2 858.8L1477.3 857.5L1478.4 862.7L1479.5 861.4L1480.6 862.1L1481.7 861.7L1482.8 861.3L1483.9 860.1L1485.0 860.3L1486.1 862.8L1487.2 862.2L1488.3 865.3L1489.4 860.7L1490.5 861.3L1491.6 860.3L1492.7 865.1L1493.8 860.0L1494.9 864.0L1496.0 865.3L1497.1 862.3L1498.2 864.0L1499.3 858.5L1500.4 861.9L1501.5 859.4L1502.6 863.1L1503.7 862.8L1504.8 861.3L1505.9 864.6L1507.0 863.5L1508.1 861.8L1509.2 861.8L1510.3 860.0L1511.4 862.5L1512.5 867.0L1513.6 861.5L1514.7 863.7L1515.8 861.7L1516.9 864.3L1518.0 863.5L1519.1 862.1L1520.2 858.9L1521.3 861.2L1522.4 864.2L1523.5 860.9L1524.6 862.0L1525.7 859.0L1526.8 855.3L1527.9 858.6L1529.0 856.8L1530.1 853.2L1531.2 851.7L1532.3 850.9L1533.4 847.0L1534.5 847.1L1535.6 844.6L1537.0 844.5L1537.8 844.4L1538.9 844.7L1540.0 846.1L1541.1 851.0L1542.2 851.5L1543.3 856.0L1544.4 859.2L1545.5 859.2L1546.6 857.6L1547.7 860.6L1548.8 865.0L1549.9 863.7L1551.0 863.4L1552.1 865.4L1553.2 867.1L1554.3 867.1L1555.4 868.2L1556.5 865.7L1557.6 867.0L1558.7 867.3L1559.8 868.0L1560.9 864.3L1562.0 868.1L1563.1 866.2L1564.2 871.6L1565.3 872.2L1566.4 872.6L1567.5 871.2L1568.6 869.0L1569.7 871.9L1570.8 869.9L1571.9 871.6L1573.0 869.0L1574.1 869.8L1575.2 871.9L1576.3 874.6L1577.4 871.4L1578.5 875.8L1579.6 877.0L1580.7 869.6L1581.8 872.1L1582.9 870.6L1584.0 872.3L1585.1 871.7L1586.2 872.7L1587.3 874.8L1588.4 874.9L1589.5 873.8L1590.6 873.4L1591.7 873.8L1592.8 873.9L1593.9 874.8L1595.0 873.9L1596.1 874.9L1597.2 871.7L1598.3 875.6L1599.4 877.4L1600.5 874.6L1601.6 871.7L1602.7 876.8L1603.8 873.8L1604.9 869.0L1606.0 874.1L1607.1 875.6L1608.2 875.3L1609.3 876.9L1610.4 875.8L1611.5 874.9L1612.6 871.1L1613.7 872.7L1614.8 875.1L1615.9 876.0L1617.0 873.0L1618.1 873.8L1619.2 875.8L1620.3 871.5L1621.4 871.4L1622.5 874.6L1623.6 875.5L1624.7 874.2L1625.8 870.9L1626.9 875.2L1628.0 872.8L1629.1 876.4L1630.2 875.1L1631.3 875.8L1632.4 876.5L1633.5 874.4L1634.6 876.9L1635.7 877.7L1636.8 876.1L1637.9 877.9L1639.0 874.3L1640.1 877.2L1641.2 876.0L1642.3 873.8L1643.4 875.5L1644.5 874.7L1645.6 874.6L1646.7 875.8L1647.8 877.6L1648.9 875.2L1650.0 876.0L1651.1 873.1L1652.2 876.0L1653.3 877.9L1654.4 877.3L1655.5 876.8L1656.6 875.0L1657.7 874.2L1658.8 875.8L1659.9 873.6L1661.0 873.8L1662.1 877.7L1663.2 874.4L1664.3 879.3L1665.4 873.5L1666.5 876.9L1667.6 874.0L1668.7 876.5L1669.8 874.3L1670.9 876.3L1672.0 876.0L1673.1 875.4L1674.2 877.2L1675.3 879.0L1676.4 875.3L1677.5 878.0L1678.6 876.5L1679.7 876.3L1680.8 880.4L1681.9 872.5L1683.0 875.2L1684.1 873.2L1685.2 875.9L1686.3 876.1L1687.4 883.4L1688.5 877.2L1689.6 879.8L1690.7 878.9L1691.8 875.8L1692.9 877.5L1694.0 879.7L1695.1 877.0L1696.2 877.1L1697.3 877.6L1698.4 874.0L1699.5 875.3L1700.6 877.4L1701.7 877.7L1702.8 875.1L1703.9 876.2L1705.0 876.6L1706.1 876.6L1707.2 878.1L1708.3 877.1L1709.4 877.2L1710.5 874.3L1711.6 875.0L1712.7 877.5L1713.8 874.1L1714.9 877.4L1716.0 875.8L1717.1 875.5L1718.2 878.2L1719.3 875.8L1720.4 875.5L1721.5 875.8L1722.6 877.2L1723.7 882.0L1724.8 873.2L1725.9 877.1L1727.0 876.7L1728.1 878.8L1729.2 876.5L1730.3 872.7L1731.4 879.6L1732.5 875.2L1733.6 877.1L1734.7 874.7L1735.8 875.2L1736.9 876.3L1738.0 878.8L1739.1 878.8L1740.2 876.2L1741.3 878.2L1742.4 876.6L1743.5 877.5L1744.6 877.6L1745.7 878.4L1746.8 876.2L1747.9 877.1L1749.0 877.7L1750.1 877.5L1751.2 875.9L1752.3 880.5L1753.4 876.5L1754.5 878.8L1755.6 877.8L1756.7 879.6L1757.8 873.5L1758.9 881.1L1760.0 877.0L1761.1 875.2L1762.2 877.7L1763.3 881.5L1764.4 878.4L1765.5 875.3L1766.6 876.6L1767.7 879.9L1768.8 875.0L1769.9 877.2L1771.0 877.0L1772.1 881.4L1773.2 877.0L1774.3 879.9L1775.4 876.3L1776.5 876.1L1777.6 879.4L1778.7 878.7L1779.8 874.5L1780.9 878.8L1782.0 878.8L1783.1 876.5L1784.2 878.0L1785.3 878.1L1786.4 876.8L1787.5 876.6L1788.6 876.4L1789.7 877.2L1790.8 875.3L1791.9 877.6L1793.0 875.0L1794.1 877.8L1795.2 877.5L1796.3 875.8L1797.4 879.2L1798.5 881.2L1799.6 880.1L1800.7 875.3L1801.8 880.0L1802.9 878.1L1804.0 877.7L1805.1 876.7L1806.2 877.7L1807.3 880.3L1808.4 878.8L1809.5 877.0L1810.6 876.6L1811.7 877.0L1812.8 878.9L1813.9 881.2L1815.0 875.9L1816.1 877.8L1817.2 877.1L1818.3 876.5L1819.4 878.6L1820.5 878.8L1821.6 875.3L1822.7 876.0L1823.8 880.0L1824.9 878.4L1826.0 878.8L1827.1 877.0L1828.2 877.2L1829.3 878.7L1830.4 877.0L1831.5 875.9L1832.6 877.9L1833.7 879.5L1834.8 876.1L1835.9 879.8L1837.0 879.2L1838.1 876.4L1839.2 877.9L1840.3 877.9L1841.4 879.1L1842.5 879.2L1843.6 875.6L1844.7 875.5L1845.8 879.8L1846.9 878.2L1848.0 878.7L1849.1 878.6L1850.2 880.7L1851.3 875.8L1852.4 880.0L1853.5 876.5L1854.6 879.3L1855.7 880.4L1856.8 875.5L1857.9 878.8L1859.0 877.5L1860.1 877.5L1861.2 878.1L1862.3 876.2L1863.4 876.3L1864.5 879.2L1865.6 879.6L1866.7 877.1L1867.8 875.5L1868.9 882.2L1870.0 880.1L1871.1 878.7L1872.2 876.2L1873.3 877.1L1874.4 878.5L1875.5 876.4L1876.6 881.0L1877.7 878.4L1878.8 878.8L1879.9 876.3L1881.0 876.5L1882.1 876.7L1883.2 878.6L1884.3 877.7L1885.4 877.6L1886.5 878.7L1887.6 878.6L1888.7 880.8L1889.8 877.8L1890.9 876.4L1892.0 878.2L1893.1 880.8L1894.2 877.2L1895.3 878.3L1896.4 877.6L1897.5 878.9L1898.6 878.7L1899.7 876.8L1900.8 877.8L1901.9 879.9L1903.0 880.2L1904.1 879.9L1905.2 879.8L1906.3 877.7L1907.4 877.6L1908.5 879.9L1909.6 876.2L1910.7 878.2L1911.8 875.0L1912.9 877.6L1914.0 877.0L1915.1 876.1L1916.2 879.3L1917.3 877.0L1918.4 877.6L1919.5 877.8L1920.6 877.0L1921.7 880.8L1922.8 877.4L1923.9 878.7L1925.0 876.0L1926.1 877.5L1927.2 877.8L1928.3 877.8L1929.4 877.3L1930.5 878.6L1931.6 881.1L1932.7 878.1L1933.8 878.1L1934.9 877.7L1936.0 882.9L1937.1 881.2L1938.2 879.4L1939.3 879.6L1940.4 877.1L1941.5 878.1L1942.6 878.8L1943.7 878.6L1944.8 876.9L1945.9 877.0L1947.0 879.3L1948.1 879.0L1949.2 874.7L1950.3 878.6L1951.4 880.7L1952.5 877.3L1953.6 878.9L1954.7 875.9L1955.8 879.9L1956.9 876.5L1958.0 876.2L1959.1 877.9L1960.2 882.7L1961.3 877.4L1962.4 876.2L1963.5 879.3L1964.6 878.9L1965.7 881.4L1966.8 876.2L1967.9 875.7L1969.0 877.9L1970.1 879.2L1971.2 879.1L1972.3 880.4L1973.4 875.9L1974.5 877.0L1975.6 878.3L1976.7 880.0L1977.8 879.4L1978.9 877.8L1980.0 876.7L1981.1 880.1L1982.2 880.2L1983.3 883.3L1984.4 878.2L1985.5 881.4L1986.6 876.4L1987.7 877.6L1988.8 877.3L1989.9 877.7L1991.0 877.0L1992.1 877.6L1993.2 878.5L1994.3 877.8L1995.4 879.7L1996.5 878.4L1997.6 878.6L1998.7 881.2L1999.8 879.1L2000.9 878.8L2002.0 878.5L2003.1 878.7L2004.2 879.6L2005.3 877.1L2006.4 880.6L2007.5 881.3L2008.6 880.6L2009.7 877.7L2010.8 875.7L2011.9 877.8L2013.0 878.8L2014.1 880.0L2015.2 878.2L2016.3 878.0L2017.4 881.2L2018.5 877.3L2019.6 880.3L2020.7 880.0L2021.8 876.0L2022.9 878.8L2024.0 877.2L2025.1 876.4L2026.2 874.7L2027.3 875.1L2028.4 878.4L2029.5 876.8L2030.6 877.7L2031.7 875.1L2032.8 876.1L2033.9 875.9L2035.0 873.2L2036.1 872.5L2037.2 875.9L2038.3 874.9L2039.4 872.4L2040.5 873.4L2041.6 874.3L2042.7 876.0L2043.8 870.6L2044.9 872.9L2046.0 875.3L2047.1 871.2L2048.2 873.6L2049.3 866.0L2050.0 870.8L2051.5 870.9L2052.6 867.6L2053.7 872.8L2054.8 873.6L2055.9 874.3L2057.0 874.7L2058.1 873.0L2059.2 872.2L2060.3 873.2L2061.4 874.5L2062.5 875.8L2063.6 874.6L2064.7 876.0L2065.8 877.9L2066.9 877.2L2068.0 881.1L2069.1 881.1L2070.2 875.4L2071.3 876.7L2072.4 875.5L2073.5 875.9L2074.6 879.1L2075.7 876.5L2076.8 876.5L2077.9 877.9L2079.0 879.8L2080.1 877.8L2081.2 877.8L2082.3 880.1L2083.4 879.3L2084.5 879.3L2085.6 880.1L2086.7 876.6L2087.8 878.7L2088.9 877.1L2090.0 879.9L2091.1 879.4L2092.2 875.9L2093.3 879.9L2094.4 875.2L2095.5 879.0L2096.6 877.0L2097.7 874.6L2098.8 873.8L2099.9 874.8L2101.0 874.9L2102.1 873.2L2103.2 875.1L2104.3 871.1L2105.4 873.3L2106.5 873.1L2107.6 869.5L2108.6 873.0L2109.8 870.7L2110.9 868.6L2112.0 872.3L2113.1 873.3L2114.2 875.8L2115.3 873.7L2116.4 877.7L2117.5 878.1L2118.6 877.9L2119.7 878.8L2120.8 877.4L2121.9 876.1L2123.0 878.6L2124.1 879.5L2125.2 878.4L2126.3 877.7L2127.4 875.5L2128.5 879.6L2129.6 879.2L2130.7 876.3L2131.8 878.9L2132.9 880.0L2134.0 878.6L2135.1 880.2L2136.2 880.2L2137.3 876.2L2138.4 878.4L2139.5 879.8L2140.6 880.5L2141.7 881.4L2142.8 875.5L2143.9 878.8L2145.0 880.2L2146.1 881.1L2147.2 882.0L2148.3 877.3L2149.4 878.3L2150.5 877.1L2151.6 880.5L2152.7 876.6L2153.8 881.1L2154.9 880.7L2156.0 879.9L2157.1 875.2L2158.2 877.8L2159.3 880.4L2160.4 876.5L2161.5 878.6L2162.6 878.9L2163.7 880.6L2164.8 879.6L2165.9 879.5L2167.0 878.3L2168.1 879.1L2169.2 878.8L2170.3 880.4L2171.4 878.8L2172.5 880.9L2173.6 876.1L2174.7 881.2L2175.8 878.8L2176.9 881.1L2178.0 879.2L2179.1 880.6L2180.2 881.8L2181.3 878.1L2182.4 879.2L2183.5 878.8L2184.6 879.5L2185.7 876.2L2186.8 878.8L2187.9 878.7L2189.0 877.7L2190.1 878.8L2191.2 876.4L2192.3 881.6L2193.4 879.9L2194.5 882.5L2195.6 877.6L2196.7 877.1L2197.8 879.6L2198.9 876.2L2200.0 879.5L2201.1 877.9L2202.2 878.5L2203.3 879.6L2204.4 879.2L2205.5 882.5L2206.6 880.3L2207.7 876.8L2208.8 880.9L2209.9 876.8L2211.0 879.3L2212.1 876.9L2213.2 877.7L2214.3 881.5L2215.4 878.2L2216.5 878.0L2217.6 878.2L2218.7 878.6L2219.8 881.7L2220.9 877.1L2222.0 877.0L2223.1 880.2L2224.2 876.3L2225.3 878.5L2226.4 881.2L2227.5 879.2L2228.6 878.3L2229.7 877.9L2230.8 877.5L2231.9 878.1L2233.0 879.4L2234.1 881.4L2235.2 880.9L2236.3 878.2L2237.4 877.9L2238.5 880.4L2239.6 875.9L2240.7 878.4L2241.8 878.6L2242.9 877.2L2244.0 877.4L2245.1 879.8L2246.2 876.2L2247.3 877.5L2248.4 878.0L2249.5 879.3L2250.6 876.7L2251.7 881.1L2252.8 878.6L2253.9 878.7L2255.0 878.5L2256.1 878.0L2257.2 877.4L2258.3 881.2L2259.4 879.5L2260.5 879.0L2261.6 880.9L2262.7 877.9L2263.8 880.3L2264.9 879.2L2266.0 877.6L2267.1 880.5L2268.2 876.5L2269.3 880.3L2270.4 877.6L2271.5 879.9L2272.6 881.6L2273.7 880.2L2274.8 878.1L2275.9 879.1L2277.0 878.5L2278.1 877.1L2279.2 877.2L2280.3 879.2L2281.4 880.1L2282.5 876.0L2283.6 879.0L2284.7 880.0L2285.8 879.3L2286.9 877.4L2288.0 881.0L2289.1 877.0L2290.2 880.3L2291.3 882.0L2292.4 875.5L2293.5 879.6L2294.6 879.7L2295.7 879.5L2296.8 877.8L2297.9 878.6L2299.0 876.7L2300.1 879.4L2301.2 880.1L2302.3 878.0L2303.4 877.5L2304.5 878.3L2305.6 879.1L2306.7 879.2L2307.8 878.9L2308.9 879.2L2310.0 876.8L2311.1 874.3" stroke="#3cb371" stroke-width="10.2"/>
</g>
<g stroke="#000" stroke-width="6.2" fill="none" stroke-linecap="butt">
<rect x="208.0" y="23.2" width="2103.0" height="1732.3999999999999"/>
<line x1="208.0" y1="1755.6" x2="208.0" y2="1789.8"/>
<line x1="470.9" y1="1755.6" x2="470.9" y2="1771.5" stroke-width="5.6"/>
<line x1="733.8" y1="1755.6" x2="733.8" y2="1789.8"/>
<line x1="996.6" y1="1755.6" x2="996.6" y2="1771.5" stroke-width="5.6"/>
<line x1="1259.5" y1="1755.6" x2="1259.5" y2="1789.8"/>
<line x1="1522.4" y1="1755.6" x2="1522.4" y2="1771.5" stroke-width="5.6"/>
<line x1="1785.2" y1="1755.6" x2="1785.2" y2="1789.8"/>
<line x1="2048.1" y1="1755.6" x2="2048.1" y2="1771.5" stroke-width="5.6"/>
<line x1="2311.0" y1="1755.6" x2="2311.0" y2="1789.8"/>
</g>
<g fill="#ff0000">
<path d="M319.1 1755.6L319.1 1704.1Q319.1 1697.8 325.4 1697.8Q331.7 1697.8 331.7 1704.1L331.7 1755.6Z"/>
<path d="M813.4 1755.6L813.4 1676.6Q813.4 1670.0 820.0 1670.0Q826.6 1670.0 826.6 1676.6L826.6 1755.6Z"/>
<path d="M1201.4 1755.6L1201.4 1703.0Q1201.4 1697.0 1207.4 1697.0Q1213.4 1697.0 1213.4 1703.0L1213.4 1755.6Z"/>
<path d="M1535.7 1755.6L1535.7 1698.3Q1535.7 1692.0 1542.0 1692.0Q1548.3 1692.0 1548.3 1698.3L1548.3 1755.6Z"/>
<path d="M1834.5 1755.6L1834.5 1707.7Q1834.5 1701.2 1841.0 1701.2Q1847.5 1701.2 1847.5 1707.7L1847.5 1755.6Z"/>
<path d="M2112.0 1755.6L2112.0 1697.4Q2112.0 1691.0 2118.4 1691.0Q2124.8 1691.0 2124.8 1697.4L2124.8 1755.6Z"/>
</g>
<text transform="translate(360.20 640.00) scale(0.8010 0.9720)" font-family="'Liberation Serif', serif" font-size="100" fill="#111111" stroke="#fefefe" stroke-width="1.34" stroke-linejoin="round" text-anchor="start" style="font-kerning:none">AcOH-MOE</text>
<text transform="translate(377.60 847.20) scale(0.7995 0.9780)" font-family="'Liberation Serif', serif" font-size="100" fill="#006400" stroke="#fefefe" stroke-width="1.33" stroke-linejoin="round" text-anchor="start" style="font-kerning:none">EG-EtOH</text>
<text transform="translate(486.59 1137.70) scale(0.8030 0.9650)" font-family="'Liberation Serif', serif" font-size="100" fill="#0c0cf8" stroke="#fefefe" stroke-width="1.35" stroke-linejoin="round" text-anchor="start" style="font-kerning:none">EG</text>
<text transform="translate(420.07 1576.80) scale(0.8110 0.9800)" font-family="'Liberation Serif', serif" font-size="100" fill="#ff8000" stroke="#fefefe" stroke-width="1.33" stroke-linejoin="round" text-anchor="start" style="font-kerning:none">EG-MOE</text>
<text transform="translate(260.49 1527.20) scale(0.5800 0.6450)" font-family="'Liberation Sans', sans-serif" font-size="100" font-weight="bold" fill="#ff0000" stroke="#fefefe" stroke-width="1.09" stroke-linejoin="round" text-anchor="start" style="font-kerning:none">(100)</text>
<text transform="translate(833.09 1300.10) scale(0.5800 0.6450)" font-family="'Liberation Sans', sans-serif" font-size="100" font-weight="bold" fill="#ff0000" stroke="#fefefe" stroke-width="1.09" stroke-linejoin="round" text-anchor="start" style="font-kerning:none">(110)</text>
<text transform="translate(1144.64 1591.10) scale(0.5800 0.6450)" font-family="'Liberation Sans', sans-serif" font-size="100" font-weight="bold" fill="#ff0000" stroke="#fefefe" stroke-width="1.09" stroke-linejoin="round" text-anchor="start" style="font-kerning:none">(111)</text>
<text transform="translate(1474.74 1464.90) scale(0.5800 0.6450)" font-family="'Liberation Sans', sans-serif" font-size="100" font-weight="bold" fill="#ff0000" stroke="#fefefe" stroke-width="1.09" stroke-linejoin="round" text-anchor="start" style="font-kerning:none">(200)</text>
<text transform="translate(1766.49 1591.50) scale(0.5800 0.6450)" font-family="'Liberation Sans', sans-serif" font-size="100" font-weight="bold" fill="#ff0000" stroke="#fefefe" stroke-width="1.09" stroke-linejoin="round" text-anchor="start" style="font-kerning:none">(210)</text>
<text transform="translate(2033.44 1581.00) scale(0.5800 0.6450)" font-family="'Liberation Sans', sans-serif" font-size="100" font-weight="bold" fill="#ff0000" stroke="#fefefe" stroke-width="1.09" stroke-linejoin="round" text-anchor="start" style="font-kerning:none">(211)</text>
<text transform="translate(169.33 1867.60) scale(0.6860 0.7650)" font-family="'Liberation Sans', sans-serif" font-size="100" fill="#000" stroke="#fefefe" stroke-width="1.96" stroke-linejoin="round" text-anchor="start" style="font-kerning:none">20</text>
<text transform="translate(695.53 1867.60) scale(0.6860 0.7650)" font-family="'Liberation Sans', sans-serif" font-size="100" fill="#000" stroke="#fefefe" stroke-width="1.96" stroke-linejoin="round" text-anchor="start" style="font-kerning:none">30</text>
<text transform="translate(1219.81 1867.60) scale(0.6860 0.7650)" font-family="'Liberation Sans', sans-serif" font-size="100" fill="#000" stroke="#fefefe" stroke-width="1.96" stroke-linejoin="round" text-anchor="start" style="font-kerning:none">40</text>
<text transform="translate(1746.63 1867.60) scale(0.6860 0.7650)" font-family="'Liberation Sans', sans-serif" font-size="100" fill="#000" stroke="#fefefe" stroke-width="1.96" stroke-linejoin="round" text-anchor="start" style="font-kerning:none">50</text>
<text transform="translate(2270.68 1867.60) scale(0.6860 0.7650)" font-family="'Liberation Sans', sans-serif" font-size="100" fill="#000" stroke="#fefefe" stroke-width="1.96" stroke-linejoin="round" text-anchor="start" style="font-kerning:none">60</text>
<text transform="translate(937.30 2028.10) scale(1.0249 1.1877)" font-family="'Liberation Serif', serif" font-size="100" fill="#000" stroke="#fefefe" stroke-width="1.26" stroke-linejoin="round" text-anchor="start" style="font-kerning:none">2 theta (degree)</text>
<text transform="translate(100.60 1224.56) rotate(-90) scale(1.1410 1.1877)" font-family="'Liberation Serif', serif" font-size="100" fill="#000" stroke="#fefefe" stroke-width="1.26" stroke-linejoin="round" text-anchor="start" style="font-kerning:none">Intensity (a.u.)</text>
</svg>
</body></html>
